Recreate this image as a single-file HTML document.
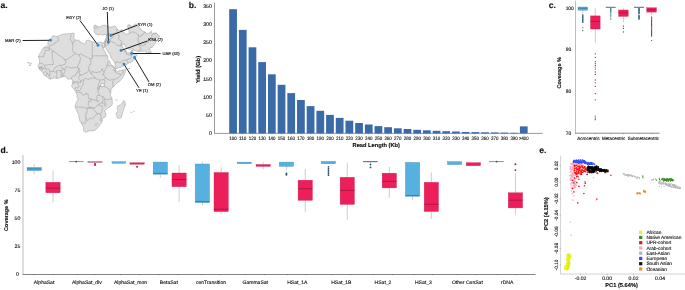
<!DOCTYPE html>
<html><head><meta charset="utf-8"><title>Figure</title>
<style>
html,body{margin:0;padding:0;background:#fff;width:685px;height:290px;overflow:hidden;}
svg{display:block;will-change:transform;}
text{font-family:"Liberation Sans",sans-serif;text-rendering:geometricPrecision;stroke:currentColor;stroke-width:0.12px;}
</style></head><body>
<svg width="685" height="290" viewBox="0 0 685 290">
<rect width="685" height="290" fill="#fff"/>
<g id="map">
<polygon points="52.71,35.63 53.65,35.64 54.42,36.30 55.64,36.19 56.97,36.54 57.52,36.56 58.75,35.70 60.14,35.42 60.94,34.77 62.18,34.29 64.35,34.00 66.46,33.87 67.11,34.11 68.32,33.48 69.68,33.47 70.20,33.84 71.08,33.74 72.47,33.09 73.37,33.29 73.33,34.10 74.42,33.51 74.51,33.82 73.87,34.60 73.86,35.33 74.30,35.72 74.13,37.08 73.29,37.86 73.53,38.70 74.20,38.73 74.52,39.46 75.01,39.70 76.51,40.23 77.05,40.09 78.12,40.35 79.81,41.03 80.41,42.37 81.56,42.66 83.37,43.28 84.73,44.02 85.35,43.63 85.97,42.95 85.67,41.80 86.07,41.07 86.99,40.36 87.88,40.15 89.61,40.46 90.04,41.14 90.52,41.14 90.93,41.40 92.20,41.58 92.51,42.08 94.21,42.05 95.45,42.45 96.72,42.89 97.31,43.12 98.29,42.65 98.82,42.22 99.95,42.10 100.86,42.29 101.21,43.03 101.51,42.54 102.53,42.89 103.53,42.98 104.16,42.60 104.87,44.77 105.00,45.15 104.64,45.74 104.37,46.84 104.02,47.60 103.72,47.85 103.29,47.38 102.72,46.73 101.80,44.63 101.67,44.77 102.20,46.32 102.99,47.78 103.95,50.01 104.43,50.79 104.84,51.59 105.99,53.14 105.73,53.39 105.77,54.29 107.26,55.54 107.49,55.82 107.90,57.17 107.62,57.42 107.81,58.82 108.28,60.44 108.76,60.78 109.46,61.27 110.21,62.83 110.56,64.05 111.26,64.70 113.01,65.95 113.72,66.70 114.41,67.46 114.81,67.91 115.44,68.31 115.75,68.72 115.71,69.26 114.98,69.57 115.53,69.93 115.94,70.17 116.19,70.71 116.77,71.25 117.41,71.26 118.61,70.93 120.01,70.77 121.13,70.37 121.77,70.28 122.22,70.04 122.95,70.00 123.36,69.97 123.95,69.78 124.63,69.65 125.24,69.20 125.72,69.19 125.75,69.56 125.63,70.32 125.64,71.00 125.37,71.47 125.01,72.87 124.39,74.32 123.60,75.97 122.50,77.86 121.41,79.29 119.90,81.04 118.62,82.08 116.71,83.35 115.51,84.33 114.11,85.88 113.82,86.55 113.53,86.85 112.63,87.37 112.32,87.90 111.84,87.99 111.66,88.90 111.24,89.42 110.99,90.27 110.48,90.69 109.89,92.28 109.96,93.01 110.78,93.48 110.82,93.81 110.47,94.59 110.54,94.98 110.46,95.60 110.91,96.41 111.44,97.69 111.91,97.98 112.11,98.56 112.06,99.86 112.22,101.01 112.27,103.07 112.49,103.72 112.11,104.66 111.61,105.59 110.80,106.41 109.63,106.92 108.19,107.57 106.74,109.02 106.25,109.27 105.35,110.23 104.83,110.54 104.72,111.51 105.33,112.55 105.58,113.36 105.59,113.77 105.82,113.70 105.78,115.06 105.58,115.71 105.88,115.95 105.69,116.53 105.15,117.03 104.10,117.51 102.56,118.27 102.00,118.80 102.11,119.40 102.43,119.49 102.32,120.25 102.00,121.29 101.85,122.50 101.52,123.15 100.65,123.89 100.40,124.10 99.85,124.85 99.50,125.61 98.77,126.68 97.32,128.23 96.42,129.14 95.45,129.84 94.12,130.43 93.46,130.51 93.30,130.94 92.52,130.71 91.89,131.01 90.50,130.71 89.72,130.90 89.19,130.82 87.87,131.43 86.78,131.67 85.99,132.26 85.41,132.30 84.87,131.74 84.43,131.71 83.88,131.02 83.82,131.24 83.65,130.82 83.66,129.92 83.24,128.90 83.66,128.62 83.62,127.46 82.79,126.06 82.14,124.81 81.22,122.90 80.27,121.80 79.77,120.75 79.49,119.35 79.17,118.32 78.74,116.15 78.71,114.49 78.55,113.73 78.05,113.16 77.39,112.03 76.72,110.39 76.44,109.54 75.40,108.22 75.32,107.19 75.20,106.35 75.38,105.18 75.82,103.96 75.88,103.39 76.30,102.21 76.61,101.67 77.34,100.81 77.75,100.22 77.89,99.26 77.82,98.52 77.44,98.05 77.09,97.26 76.78,96.48 76.85,96.21 77.24,95.70 76.85,94.45 76.59,93.59 75.95,92.77 76.07,92.52 75.89,92.12 75.55,91.16 74.50,89.80 73.18,88.50 72.34,87.45 71.56,86.12 71.60,85.70 71.88,85.29 72.19,84.36 72.45,83.41 72.21,83.21 72.65,81.78 72.84,80.76 72.34,79.92 71.75,79.70 71.49,79.12 71.17,78.94 71.18,78.58 69.85,79.05 69.37,78.98 68.87,79.27 67.85,79.24 67.16,78.44 66.74,77.51 65.84,76.66 64.87,76.67 63.75,76.67 62.69,76.82 61.66,77.10 59.65,77.85 58.94,78.29 57.79,78.66 56.64,78.30 56.06,78.31 55.17,78.06 54.35,78.08 52.83,78.30 51.94,78.67 50.68,79.14 50.43,79.11 50.09,79.12 48.77,78.51 47.61,77.53 46.52,76.82 45.66,75.99 45.31,75.90 44.39,75.38 43.73,74.69 43.50,74.21 43.34,73.26 42.78,72.49 42.29,71.98 41.96,71.81 41.64,71.56 41.49,70.98 41.31,70.69 40.93,70.48 40.25,69.93 39.71,69.85 39.42,69.48 39.42,69.28 39.03,69.00 38.95,68.72 38.74,67.72 38.91,67.13 38.38,66.11 37.74,65.63 38.30,65.38 38.92,64.45 39.23,63.77 39.67,63.34 39.48,62.39 39.63,61.12 39.49,59.79 39.34,59.12 39.46,58.44 39.13,57.79 38.46,57.20 38.51,56.62 38.57,55.98 39.07,55.60 39.48,54.88 39.40,54.41 39.84,53.43 40.55,52.54 40.99,52.31 41.32,51.49 41.35,50.73 41.82,49.85 42.67,49.33 43.48,47.86 43.50,47.84 44.15,47.29 45.34,47.13 46.35,46.13 46.99,45.74 48.06,44.51 47.74,42.66 48.22,41.37 48.40,40.57 49.22,39.54 50.50,38.84 51.45,38.20 52.31,36.59" fill="#dedede" stroke="#8a8a8a" stroke-width="0.42" stroke-linejoin="round"/>
<polygon points="104.16,42.60 104.53,42.11 104.44,42.02 104.78,41.32 105.04,40.17 105.23,39.79 105.26,39.77 105.72,38.52 106.35,37.43 106.38,37.37 106.26,36.18 106.57,35.53 106.10,34.81 106.59,34.21 105.81,34.35 104.73,33.98 103.85,34.90 101.91,35.08 100.88,34.23 99.50,34.17 99.20,34.83 98.32,35.02 97.08,34.17 95.68,34.20 94.92,32.60 93.99,31.70 94.61,30.43 93.80,29.64 95.22,28.04 97.19,27.98 97.73,26.69 100.17,26.92 101.71,25.81 103.20,25.32 105.31,25.29 107.55,26.49 109.39,27.15 110.88,26.89 111.98,27.04 113.49,26.15 114.85,26.07 116.09,26.91 116.30,27.50 116.18,28.32 117.13,28.74 117.64,29.23 117.84,29.85 118.49,30.61 119.36,30.83 119.83,30.78 121.34,29.57 121.82,29.44 122.20,29.93 121.75,30.75 122.55,31.60 122.87,31.52 123.28,32.72 124.49,33.05 125.38,33.86 127.20,34.14 129.20,33.71 129.32,33.34 129.08,32.20 129.27,30.49 128.27,29.93 128.60,28.79 127.75,28.69 128.03,27.27 129.24,27.69 130.36,27.15 129.43,26.13 129.06,25.14 128.03,25.58 127.90,26.83 127.50,25.73 128.07,25.16 129.52,24.80 130.39,25.28 131.28,26.62 131.94,26.54 133.38,26.52 133.17,25.65 134.27,25.06 135.35,24.05 137.07,24.97 137.21,26.34 137.70,26.69 139.08,26.61 139.51,26.92 140.14,28.66 141.60,29.81 142.44,30.58 143.78,31.39 145.48,32.08 145.44,33.07 146.16,33.08 147.12,33.42 147.51,33.62 148.44,33.10 148.87,33.41 149.28,32.68 150.05,32.71 150.25,32.47 150.38,31.82 150.93,31.25 151.63,31.62 151.49,32.12 151.87,32.20 151.75,33.55 152.26,34.08 152.71,33.74 153.28,33.58 154.07,32.86 154.95,32.98 156.27,32.98 156.50,33.44 157.45,34.19 157.83,35.41 159.93,36.05 158.70,37.36 157.27,37.59 155.33,37.21 154.70,37.88 155.15,39.23 155.60,40.27 156.63,41.02 155.54,41.89 155.56,42.96 154.32,44.45 153.51,45.94 152.18,47.47 150.69,47.36 149.28,48.87 150.12,49.51 150.26,50.61 150.98,51.33 151.24,52.54 148.42,52.54 147.57,53.47 146.63,53.12 146.25,52.11 145.26,51.03 142.90,51.30 140.82,51.32 139.02,51.52 136.61,51.10 135.21,50.77 133.77,50.58 133.22,48.83 132.61,48.58 131.63,48.84 130.34,49.53 128.77,49.05 127.48,47.95 126.25,47.54 125.39,46.16 124.45,44.20 123.76,44.43 122.94,43.94 122.47,44.52 121.71,44.45 121.97,45.10 121.86,45.44 122.27,46.54 122.77,47.79 123.40,48.12 123.62,48.63 124.50,49.23 124.57,49.82 124.45,50.29 124.61,50.77 124.98,51.17 125.15,51.63 125.34,51.98 125.25,50.95 125.60,50.20 125.95,50.05 126.33,50.50 126.36,51.33 126.08,52.16 126.32,52.70 126.55,52.63 126.60,53.01 127.60,52.79 128.66,52.83 129.43,52.87 130.31,51.92 131.26,51.01 132.07,50.14 132.31,50.62 132.49,51.74 133.06,52.70 133.78,53.21 134.72,53.39 135.47,53.65 136.05,54.45 136.40,54.91 136.85,55.08 136.85,55.39 136.39,56.21 136.18,56.60 135.64,57.04 135.16,57.98 134.58,57.91 134.32,58.23 134.11,58.92 134.27,59.83 134.15,60.00 133.56,59.99 132.76,60.50 132.64,61.15 132.34,61.44 131.55,61.43 131.05,61.77 131.05,62.31 130.43,62.68 129.73,62.55 128.87,63.00 128.28,63.08 127.35,63.44 127.11,64.03 127.08,64.48 125.80,65.04 123.76,65.66 122.61,66.59 122.05,66.67 121.66,66.59 120.91,67.14 120.10,67.39 119.02,67.46 118.70,67.53 118.42,67.88 118.08,67.98 117.89,68.31 117.25,68.28 116.84,68.46 115.96,68.39 115.63,67.62 115.66,66.91 115.45,66.52 115.20,65.54 114.83,64.99 115.09,64.93 114.96,64.32 115.11,64.07 115.06,63.48 114.89,62.91 114.51,62.51 114.41,61.98 113.75,61.50 113.06,60.37 112.70,59.26 111.82,58.33 111.25,58.10 110.40,56.80 110.25,55.84 110.30,55.02 109.57,53.48 108.97,52.93 108.28,52.64 107.86,51.83 107.93,51.51 107.57,50.78 107.20,50.46 106.70,49.40 105.92,48.24 105.27,47.25 104.63,47.26 104.83,46.46 104.89,45.95 105.04,45.36 105.00,45.15 104.87,44.77" fill="#dedede" stroke="#8a8a8a" stroke-width="0.42" stroke-linejoin="round"/>
<polygon points="123.72,100.79 124.06,101.35 124.37,102.22 124.58,103.80 124.91,104.42 124.78,105.06 124.56,105.45 124.12,104.67 123.88,105.07 124.13,106.05 124.01,106.62 123.66,106.93 123.58,108.07 123.07,109.64 122.44,111.51 121.65,114.12 121.16,116.06 120.58,117.68 119.54,118.02 118.42,118.62 117.69,118.26 116.67,117.75 116.32,117.01 116.23,115.76 115.78,114.65 115.67,113.66 115.89,112.67 116.48,112.43 116.49,111.97 117.10,110.94 117.21,110.07 116.92,109.43 116.68,108.58 116.57,107.34 117.02,106.59 117.19,105.74 117.83,105.69 118.54,105.42 119.02,105.18 119.58,105.16 120.31,104.40 121.36,103.59 121.75,102.92 121.57,102.36 122.12,102.52 122.82,101.60 122.85,100.81 123.27,100.23 123.72,100.79" transform="translate(0.6,0)" fill="#dedede" stroke="#8a8a8a" stroke-width="0.42" stroke-linejoin="round"/>
<polygon points="95.11,27.59 94.04,28.49 93.64,27.71 93.65,27.36 93.96,27.17 94.35,26.11 93.73,25.65 95.03,25.11 96.14,25.34 96.29,26.00 97.41,26.55 97.17,26.97 95.65,27.07 95.11,27.59" fill="#dedede" stroke="#8a8a8a" stroke-width="0.42" stroke-linejoin="round"/>
<polygon points="132.48,50.36 132.31,50.62 132.07,50.14 132.44,49.65 132.60,49.77" fill="#dedede" stroke="#8a8a8a" stroke-width="0.42" stroke-linejoin="round"/>
<polygon points="128.52,68.41 129.10,68.31 130.06,68.51 129.55,68.77 128.91,68.83 128.52,68.64" fill="#dedede" stroke="#8a8a8a" stroke-width="0.42" stroke-linejoin="round"/>
<circle cx="28.17" cy="62.55" r="0.45" fill="#dedede" stroke="#8a8a8a" stroke-width="0.3"/>
<circle cx="28.36" cy="62.81" r="0.3" fill="#dedede" stroke="#8a8a8a" stroke-width="0.3"/>
<circle cx="29.20" cy="63.15" r="0.3" fill="#dedede" stroke="#8a8a8a" stroke-width="0.3"/>
<circle cx="30.99" cy="63.01" r="0.3" fill="#dedede" stroke="#8a8a8a" stroke-width="0.3"/>
<circle cx="31.12" cy="63.81" r="0.35" fill="#dedede" stroke="#8a8a8a" stroke-width="0.3"/>
<circle cx="30.60" cy="65.01" r="0.3" fill="#dedede" stroke="#8a8a8a" stroke-width="0.3"/>
<circle cx="30.09" cy="65.14" r="0.4" fill="#dedede" stroke="#8a8a8a" stroke-width="0.3"/>
<circle cx="29.07" cy="65.41" r="0.3" fill="#dedede" stroke="#8a8a8a" stroke-width="0.3"/>
<circle cx="115.72" cy="99.78" r="0.35" fill="#dedede" stroke="#8a8a8a" stroke-width="0.3"/>
<circle cx="117.13" cy="100.44" r="0.3" fill="#dedede" stroke="#8a8a8a" stroke-width="0.3"/>
<circle cx="133.96" cy="111.25" r="0.45" fill="#dedede" stroke="#8a8a8a" stroke-width="0.3"/>
<circle cx="131.34" cy="112.34" r="0.5" fill="#dedede" stroke="#8a8a8a" stroke-width="0.3"/>
<circle cx="110.60" cy="92.52" r="0.35" fill="#dedede" stroke="#8a8a8a" stroke-width="0.3"/>
<circle cx="111.12" cy="91.24" r="0.3" fill="#dedede" stroke="#8a8a8a" stroke-width="0.3"/>
<polygon points="97.39,123.45 97.84,123.89 97.44,124.61 97.23,125.09 96.51,125.32 96.28,125.79 95.82,125.94 94.86,124.80 95.54,123.87 96.24,123.30 96.83,123.00" fill="#dedede" stroke="#8a8a8a" stroke-width="0.3"/>
<polygon points="101.35,120.23 101.09,120.87 100.34,121.03 99.58,120.24 99.57,119.76 99.92,119.21 100.03,118.80 100.40,118.70 101.06,118.96 101.25,119.60" fill="#dedede" stroke="#8a8a8a" stroke-width="0.3"/>
<polyline points="57.52,36.56 58.00,37.56 58.08,38.50 58.52,40.12 58.86,40.44 58.63,41.03 56.95,41.28 56.37,41.84 55.63,41.97 55.58,43.08 54.08,43.67 53.59,44.41 52.54,44.81 51.26,45.03 49.20,46.12 49.21,47.84 49.18,48.21" fill="none" stroke="#8a8a8a" stroke-width="0.42" stroke-linejoin="round"/>
<polyline points="49.21,47.84 43.48,47.86" fill="none" stroke="#8a8a8a" stroke-width="0.42" stroke-linejoin="round"/>
<polyline points="49.18,48.21 49.18,50.38 44.98,50.31 45.02,53.91 43.82,54.04 43.51,54.75 43.75,56.75 38.74,56.74 38.46,57.20" fill="none" stroke="#8a8a8a" stroke-width="0.42" stroke-linejoin="round"/>
<polyline points="49.18,48.21 54.00,51.67" fill="none" stroke="#8a8a8a" stroke-width="0.42" stroke-linejoin="round"/>
<polyline points="54.00,51.67 52.04,51.69 52.66,57.69 53.27,63.51 53.50,63.68 53.21,64.61 48.08,64.63 47.88,64.93 47.39,64.84 46.67,65.10 45.77,64.73 45.37,64.76 45.15,65.54 44.72,65.78" fill="none" stroke="#8a8a8a" stroke-width="0.42" stroke-linejoin="round"/>
<polyline points="44.72,65.78 43.88,64.87 43.10,63.90 42.25,63.54 41.64,63.15 40.93,63.16 40.30,63.46 39.67,63.34 39.23,63.77" fill="none" stroke="#8a8a8a" stroke-width="0.42" stroke-linejoin="round"/>
<polyline points="54.00,51.67 58.32,54.72 62.63,57.73 62.94,58.37 63.73,58.76 64.33,58.98 64.34,59.84 65.76,59.71" fill="none" stroke="#8a8a8a" stroke-width="0.42" stroke-linejoin="round"/>
<polyline points="65.76,59.71 67.57,59.11 71.27,56.42 75.66,53.78" fill="none" stroke="#8a8a8a" stroke-width="0.42" stroke-linejoin="round"/>
<polyline points="75.66,53.78 75.10,52.90 74.09,52.25 73.49,52.51 73.03,51.72 72.99,51.12 72.23,50.08 72.74,49.48 72.63,48.58 72.79,47.79 72.70,47.13 72.92,45.94 72.85,45.26 72.44,43.96" fill="none" stroke="#8a8a8a" stroke-width="0.42" stroke-linejoin="round"/>
<polyline points="72.44,43.96 71.89,41.27 71.10,40.66 71.09,40.29 70.04,39.38 69.93,38.22 70.72,37.36 71.02,36.07 70.82,34.56 71.08,33.74" fill="none" stroke="#8a8a8a" stroke-width="0.42" stroke-linejoin="round"/>
<polyline points="72.44,43.96 73.06,43.61 73.17,42.99 73.04,42.37 73.92,41.79 74.31,41.30 74.93,40.87 75.01,39.70" fill="none" stroke="#8a8a8a" stroke-width="0.42" stroke-linejoin="round"/>
<polyline points="92.51,42.08 92.05,42.79 92.25,43.43 91.92,44.35 92.30,45.53 92.30,55.82" fill="none" stroke="#8a8a8a" stroke-width="0.42" stroke-linejoin="round"/>
<polyline points="92.30,55.82 92.30,58.56 90.83,58.56 90.81,59.13 85.71,56.52 80.60,53.86 79.31,54.63 78.40,55.14 77.68,54.38 75.66,53.78" fill="none" stroke="#8a8a8a" stroke-width="0.42" stroke-linejoin="round"/>
<polyline points="92.30,55.82 107.49,55.82" fill="none" stroke="#8a8a8a" stroke-width="0.42" stroke-linejoin="round"/>
<polyline points="65.76,59.71 65.77,62.81 65.07,63.70 64.96,64.52 63.82,64.73 62.07,64.85 61.60,65.32 60.78,65.37" fill="none" stroke="#8a8a8a" stroke-width="0.42" stroke-linejoin="round"/>
<polyline points="60.78,65.37 59.96,65.38 59.64,65.12 58.94,65.31 57.74,65.86 57.49,66.27 56.50,66.86 56.33,67.20 55.79,67.47 55.17,67.29 54.82,67.61 54.63,68.52 53.62,69.60 53.65,70.04 53.30,70.60 53.38,71.35" fill="none" stroke="#8a8a8a" stroke-width="0.42" stroke-linejoin="round"/>
<polyline points="44.72,65.78 44.78,66.61 45.03,67.36 45.51,67.73 45.62,68.24 45.56,68.65 45.64,69.13 46.39,68.99 46.74,69.33 47.29,69.43 47.64,69.15 48.05,68.97 48.36,68.79 48.62,68.82 48.90,69.11 49.05,69.47 49.58,70.02 49.32,70.35 49.27,70.78 49.54,70.65 49.70,70.80 49.63,71.19 50.02,71.57 50.19,71.45 50.54,71.64 51.53,71.65 51.77,71.27 51.99,71.30 52.36,71.15 52.56,71.71 52.85,71.54 53.38,71.35" fill="none" stroke="#8a8a8a" stroke-width="0.42" stroke-linejoin="round"/>
<polyline points="38.91,67.13 40.30,67.09 40.59,66.78 41.00,66.76 41.50,67.09 41.90,67.09 42.32,66.87 42.58,67.25 42.02,67.55 41.47,67.52 40.92,67.25 40.44,67.55 40.22,67.56 39.91,67.74 38.74,67.72" fill="none" stroke="#8a8a8a" stroke-width="0.42" stroke-linejoin="round"/>
<polyline points="38.95,68.72 39.63,68.51 40.05,68.55 40.40,68.40 42.76,68.46 43.38,68.47 44.30,68.79 44.58,68.76 44.68,68.62 45.38,68.72 45.56,68.65" fill="none" stroke="#8a8a8a" stroke-width="0.42" stroke-linejoin="round"/>
<polyline points="42.76,68.46 42.74,68.90 42.60,69.04 42.71,69.47 42.51,69.65 42.22,69.65 41.89,69.87 41.50,69.84 40.93,70.48" fill="none" stroke="#8a8a8a" stroke-width="0.42" stroke-linejoin="round"/>
<polyline points="43.34,73.26 44.03,72.69 44.18,72.33 44.39,72.05 44.75,72.02 45.05,71.77 46.07,71.77 46.43,72.24 46.70,72.78 46.66,73.16 46.87,73.50" fill="none" stroke="#8a8a8a" stroke-width="0.42" stroke-linejoin="round"/>
<polyline points="45.66,75.99 45.96,75.58 46.03,75.21 46.61,74.50 47.21,73.90 46.85,73.98 46.87,73.50 47.48,73.87 47.81,73.73 48.35,74.52 48.26,75.04 48.51,75.31 48.87,75.32 49.14,74.80 49.50,74.83" fill="none" stroke="#8a8a8a" stroke-width="0.42" stroke-linejoin="round"/>
<polyline points="49.50,74.83 49.70,74.83 49.78,74.27 49.68,74.02 49.80,73.84 50.27,73.68 49.96,72.64 49.66,72.11 49.77,71.67 50.02,71.57" fill="none" stroke="#8a8a8a" stroke-width="0.42" stroke-linejoin="round"/>
<polyline points="49.50,74.83 49.44,75.21 49.57,75.83 49.29,76.40 49.66,76.76 50.07,76.84 50.61,77.38 50.65,77.89 50.53,78.05 50.43,79.11" fill="none" stroke="#8a8a8a" stroke-width="0.42" stroke-linejoin="round"/>
<polyline points="53.38,71.35 53.96,71.64 54.18,72.07 54.76,72.34 55.21,72.01 55.80,71.96 56.68,72.30" fill="none" stroke="#8a8a8a" stroke-width="0.42" stroke-linejoin="round"/>
<polyline points="56.68,72.30 57.02,74.14 56.48,75.23 56.15,76.68 56.70,77.79 56.64,78.30" fill="none" stroke="#8a8a8a" stroke-width="0.42" stroke-linejoin="round"/>
<polyline points="56.68,72.30 56.51,71.32 56.54,70.58 58.76,70.52 59.33,70.61 59.74,70.40 60.33,70.51" fill="none" stroke="#8a8a8a" stroke-width="0.42" stroke-linejoin="round"/>
<polyline points="60.33,70.51 60.24,70.91 60.77,71.59 60.77,72.53 60.89,73.55 61.21,74.02 60.93,75.19 61.03,75.83 61.37,76.65 61.66,77.10" fill="none" stroke="#8a8a8a" stroke-width="0.42" stroke-linejoin="round"/>
<polyline points="60.33,70.51 61.45,70.54 61.89,70.39 62.15,69.82 62.78,69.70 63.06,69.30" fill="none" stroke="#8a8a8a" stroke-width="0.42" stroke-linejoin="round"/>
<polyline points="60.78,65.37 60.68,66.01 60.85,66.61 61.57,67.47 61.61,68.11 63.09,68.41 63.06,69.30" fill="none" stroke="#8a8a8a" stroke-width="0.42" stroke-linejoin="round"/>
<polyline points="61.45,70.54 61.29,71.22 61.68,71.61 62.12,72.06 62.17,72.70 62.43,72.97 62.37,75.93 62.69,76.82" fill="none" stroke="#8a8a8a" stroke-width="0.42" stroke-linejoin="round"/>
<polyline points="63.06,69.30 63.49,68.92 63.95,68.92 64.92,69.67" fill="none" stroke="#8a8a8a" stroke-width="0.42" stroke-linejoin="round"/>
<polyline points="64.92,69.67 64.87,70.10 65.16,70.88 64.91,71.40 65.04,71.75 64.42,72.56 64.03,72.95 63.79,73.77 63.82,74.59 63.75,76.67" fill="none" stroke="#8a8a8a" stroke-width="0.42" stroke-linejoin="round"/>
<polyline points="64.92,69.67 65.01,68.50 65.38,67.97 65.56,67.22 65.89,66.93 67.27,66.78 68.55,67.27 69.03,67.76 69.68,67.79 70.29,67.46 71.84,68.14 72.49,68.11 73.25,67.55 74.00,67.59 74.37,67.41 75.06,67.48 76.05,67.87 77.05,67.13 77.71,67.19" fill="none" stroke="#8a8a8a" stroke-width="0.42" stroke-linejoin="round"/>
<polyline points="77.71,67.19 77.63,66.11 78.18,64.37 79.82,63.11 79.88,61.37 80.38,58.62 80.65,58.03 80.13,57.57 80.10,57.13 79.63,56.77 79.31,54.63" fill="none" stroke="#8a8a8a" stroke-width="0.42" stroke-linejoin="round"/>
<polyline points="77.71,67.19 78.22,67.78 78.45,68.60" fill="none" stroke="#8a8a8a" stroke-width="0.42" stroke-linejoin="round"/>
<polyline points="78.45,68.60 78.96,69.11 78.82,69.36 78.76,69.79 77.67,70.79 77.34,71.63 77.16,72.30 76.89,72.59 76.62,73.49 75.94,74.03 75.74,74.68 75.46,75.20 75.34,75.74 74.46,76.18 73.74,75.64 73.25,75.67 72.49,76.43 72.11,76.44 71.51,77.67 71.18,78.59" fill="none" stroke="#8a8a8a" stroke-width="0.42" stroke-linejoin="round"/>
<polyline points="78.45,68.60 78.86,68.10 79.36,68.94 79.45,69.80 80.10,71.86 79.40,71.85 79.03,71.94 78.44,71.81 78.16,72.42 78.91,73.17 79.47,73.39 79.65,73.93 80.06,74.83 79.86,75.18" fill="none" stroke="#8a8a8a" stroke-width="0.42" stroke-linejoin="round"/>
<polyline points="79.86,75.18 80.92,75.07 81.15,74.75 81.69,75.06 83.29,74.57 83.84,74.06 84.50,73.61 84.38,73.16 84.74,73.04 85.98,73.12 87.18,72.51 88.10,71.09 88.75,70.57 89.56,70.35" fill="none" stroke="#8a8a8a" stroke-width="0.42" stroke-linejoin="round"/>
<polyline points="89.56,70.35 89.10,69.64 89.10,68.89 88.83,68.37 88.38,68.45 88.51,67.97 88.83,67.43 88.69,66.88 89.11,66.48 88.84,66.16 89.19,65.36 89.77,64.37 90.88,64.47 90.81,59.13" fill="none" stroke="#8a8a8a" stroke-width="0.42" stroke-linejoin="round"/>
<polyline points="89.56,70.35 89.71,70.91 90.44,71.72 90.46,72.25 90.24,72.78 90.33,73.20 90.78,73.56 91.75,74.13 92.44,74.65 92.45,75.07 93.32,75.74 93.85,76.30 94.18,77.07 95.13,77.58 95.33,78.00" fill="none" stroke="#8a8a8a" stroke-width="0.42" stroke-linejoin="round"/>
<polyline points="90.78,73.56 91.26,73.48 91.71,73.24 92.03,72.08 92.39,71.48 93.31,71.30 93.53,71.65 94.19,72.42 94.54,72.52 95.00,72.30 95.92,72.35 96.10,72.61 97.38,72.61 97.42,72.35 98.09,72.11 98.21,71.73 98.69,71.46 99.78,72.21 100.43,72.08 101.07,71.14 101.77,70.43 101.66,69.64 101.35,69.27 102.13,69.20 102.21,68.90 102.81,68.99 102.66,69.96 102.81,70.90 103.46,71.41 103.62,71.86 103.77,72.38 103.91,72.55" fill="none" stroke="#8a8a8a" stroke-width="0.42" stroke-linejoin="round"/>
<polyline points="103.91,72.55 104.15,71.01 104.75,70.65 104.88,70.11 105.43,69.12 106.20,68.47 106.73,67.18 106.93,66.04" fill="none" stroke="#8a8a8a" stroke-width="0.42" stroke-linejoin="round"/>
<polyline points="103.91,72.55 103.91,73.55 103.60,73.93 102.91,73.97 102.48,74.71 103.27,74.80 103.92,75.42 104.14,75.94 104.73,76.25 105.48,77.64" fill="none" stroke="#8a8a8a" stroke-width="0.42" stroke-linejoin="round"/>
<polyline points="105.48,77.64 106.15,77.85 106.15,78.57 106.58,79.00 107.48,79.00 109.09,80.09 109.50,80.10 109.80,80.06 110.08,80.22 110.94,80.32 111.31,79.78 112.49,79.24 113.00,79.68 113.88,79.68" fill="none" stroke="#8a8a8a" stroke-width="0.42" stroke-linejoin="round"/>
<polyline points="105.48,77.64 104.61,78.48 103.82,79.25" fill="none" stroke="#8a8a8a" stroke-width="0.42" stroke-linejoin="round"/>
<polyline points="103.82,79.25 103.04,79.85 102.14,79.85 101.11,80.14 100.30,79.86 99.76,80.20" fill="none" stroke="#8a8a8a" stroke-width="0.42" stroke-linejoin="round"/>
<polyline points="103.82,79.25 104.43,80.14 104.59,80.96 105.15,82.25 104.68,83.19 103.68,84.56 103.68,85.92" fill="none" stroke="#8a8a8a" stroke-width="0.42" stroke-linejoin="round"/>
<polyline points="99.76,80.20 99.69,81.70 100.20,81.88 99.79,82.33 99.30,82.68 98.82,83.34 98.55,83.93 98.47,84.97 98.18,85.46 98.16,86.42" fill="none" stroke="#8a8a8a" stroke-width="0.42" stroke-linejoin="round"/>
<polyline points="99.24,86.15 103.68,85.92" fill="none" stroke="#8a8a8a" stroke-width="0.42" stroke-linejoin="round"/>
<polyline points="98.16,86.42 98.47,86.54 99.24,86.15" fill="none" stroke="#8a8a8a" stroke-width="0.42" stroke-linejoin="round"/>
<polyline points="98.16,86.42 97.79,86.77 97.74,87.54 97.57,87.63 97.45,88.34" fill="none" stroke="#8a8a8a" stroke-width="0.42" stroke-linejoin="round"/>
<polyline points="97.45,88.34 98.24,88.44 98.62,87.71 99.30,87.79" fill="none" stroke="#8a8a8a" stroke-width="0.42" stroke-linejoin="round"/>
<polyline points="99.24,86.15 99.75,86.88 99.67,87.63 99.30,87.79" fill="none" stroke="#8a8a8a" stroke-width="0.42" stroke-linejoin="round"/>
<polyline points="99.30,87.79 99.38,88.30 99.65,88.58 99.66,89.00 99.35,89.27 98.85,89.94 98.38,90.40 97.86,90.47" fill="none" stroke="#8a8a8a" stroke-width="0.42" stroke-linejoin="round"/>
<polyline points="97.45,88.34 97.78,88.91 97.86,90.47" fill="none" stroke="#8a8a8a" stroke-width="0.42" stroke-linejoin="round"/>
<polyline points="97.86,90.47 98.09,91.65 97.96,92.32 98.21,93.06 98.96,93.79 99.65,95.41" fill="none" stroke="#8a8a8a" stroke-width="0.42" stroke-linejoin="round"/>
<polyline points="99.65,95.41 100.18,95.74 100.70,95.96 101.50,96.18 102.23,96.57" fill="none" stroke="#8a8a8a" stroke-width="0.42" stroke-linejoin="round"/>
<polyline points="102.23,96.57 102.83,97.15 103.17,98.26 102.94,98.61 102.68,99.66 102.94,100.75 102.53,101.20 102.14,102.42 102.81,102.76" fill="none" stroke="#8a8a8a" stroke-width="0.42" stroke-linejoin="round"/>
<polyline points="102.23,96.57 103.49,96.81 103.74,97.16 104.18,97.77 104.54,99.55" fill="none" stroke="#8a8a8a" stroke-width="0.42" stroke-linejoin="round"/>
<polyline points="102.81,102.76 103.55,103.40 103.90,103.28 104.41,103.61 104.49,104.14 104.22,104.76 104.31,105.69 105.14,106.52 105.54,105.60 106.09,105.32 105.98,103.61 105.45,102.66 104.98,102.23 104.54,102.25 104.18,100.54 104.54,99.55" fill="none" stroke="#8a8a8a" stroke-width="0.42" stroke-linejoin="round"/>
<polyline points="104.54,99.55 105.50,99.44 107.03,99.81 107.38,99.64 108.26,99.61 108.72,99.22 109.49,99.25 110.89,98.74 111.91,97.98" fill="none" stroke="#8a8a8a" stroke-width="0.42" stroke-linejoin="round"/>
<polyline points="103.68,85.92 108.56,88.67 108.65,89.41 110.48,90.70" fill="none" stroke="#8a8a8a" stroke-width="0.42" stroke-linejoin="round"/>
<polyline points="102.81,102.76 98.93,103.86 99.05,104.80" fill="none" stroke="#8a8a8a" stroke-width="0.42" stroke-linejoin="round"/>
<polyline points="99.05,104.80 98.09,104.97 97.36,105.51 97.20,105.97 96.74,106.08 95.63,107.18 94.91,108.05 94.49,108.08 94.07,107.93 92.63,107.78" fill="none" stroke="#8a8a8a" stroke-width="0.42" stroke-linejoin="round"/>
<polyline points="92.63,107.78 92.40,107.67 91.89,107.26 91.06,107.19 90.02,107.48" fill="none" stroke="#8a8a8a" stroke-width="0.42" stroke-linejoin="round"/>
<polyline points="90.02,107.48 89.18,106.65 88.32,105.56 88.37,101.35 91.05,101.37 90.93,100.92 91.12,100.42 90.89,99.81 91.05,99.18 90.90,98.78" fill="none" stroke="#8a8a8a" stroke-width="0.42" stroke-linejoin="round"/>
<polyline points="90.90,98.78 91.35,98.80 91.42,99.21 92.02,99.18 92.84,99.30 93.26,99.89 94.28,100.07 95.06,99.66 95.36,100.34 96.34,100.53 96.81,101.09 97.33,101.81 98.32,101.83 98.21,100.41 97.86,100.65 96.96,100.13 96.61,99.90 96.78,98.59 97.00,97.06 96.72,96.48 97.07,95.66 97.42,95.50 99.15,95.28 99.65,95.41" fill="none" stroke="#8a8a8a" stroke-width="0.42" stroke-linejoin="round"/>
<polyline points="90.90,98.78 90.33,98.70 89.54,98.89 88.97,98.85 88.66,98.97 88.73,97.42 88.31,96.94 88.20,96.15 88.40,95.37 88.14,94.87 88.11,94.06 86.55,94.07 86.67,93.61 86.02,93.61 85.95,93.84 85.16,93.89 84.84,94.64 84.65,94.96 83.93,94.78 83.51,94.96 82.66,95.06 82.18,94.39 81.88,93.97 81.51,93.19 81.20,92.24 77.43,92.21 76.97,92.37 76.61,92.36 76.07,92.52" fill="none" stroke="#8a8a8a" stroke-width="0.42" stroke-linejoin="round"/>
<polyline points="90.02,107.48 87.67,108.03 84.57,107.85 83.67,107.20 78.49,107.26 78.30,107.35 77.53,106.75 76.70,106.71 75.94,106.93 75.31,107.19" fill="none" stroke="#8a8a8a" stroke-width="0.42" stroke-linejoin="round"/>
<polyline points="92.63,107.78 91.69,107.98 91.30,107.98 90.48,108.51 90.00,107.95 88.02,108.43 87.06,108.47 87.03,113.32 85.77,113.37 85.77,117.44" fill="none" stroke="#8a8a8a" stroke-width="0.42" stroke-linejoin="round"/>
<polyline points="85.77,117.44 85.76,122.73 84.62,123.47 83.93,123.59 83.14,123.31 82.56,123.19 82.34,122.58 81.83,122.17 81.22,122.90" fill="none" stroke="#8a8a8a" stroke-width="0.42" stroke-linejoin="round"/>
<polyline points="92.63,107.78 93.13,108.86 93.39,109.09 93.78,109.87 95.24,111.37 95.78,111.52 95.79,112.00 96.17,112.88 97.15,113.08 97.97,113.70" fill="none" stroke="#8a8a8a" stroke-width="0.42" stroke-linejoin="round"/>
<polyline points="97.97,113.70 96.17,114.73 95.01,115.76 94.59,116.70 94.21,117.23 93.50,117.34 93.29,118.01 93.14,118.46 92.34,118.79 91.29,118.72 90.67,118.32 90.14,118.15 89.51,118.47 89.20,119.16 88.60,119.58 87.96,120.23 87.04,120.37 86.76,119.87 86.87,119.00 86.12,117.65 85.77,117.44" fill="none" stroke="#8a8a8a" stroke-width="0.42" stroke-linejoin="round"/>
<polyline points="97.97,113.70 100.22,113.92" fill="none" stroke="#8a8a8a" stroke-width="0.42" stroke-linejoin="round"/>
<polyline points="100.22,113.92 101.57,112.37 101.91,111.38 102.10,111.25 102.25,110.46 102.04,110.05 102.09,109.03 102.35,108.10 102.35,106.40 101.68,105.97 101.07,105.88 100.80,105.55 100.20,105.27 99.14,105.29 99.05,104.80" fill="none" stroke="#8a8a8a" stroke-width="0.42" stroke-linejoin="round"/>
<polyline points="100.22,113.92 100.84,115.88 101.17,116.88 100.94,118.45 101.06,118.96" fill="none" stroke="#8a8a8a" stroke-width="0.42" stroke-linejoin="round"/>
<polyline points="101.35,120.23 102.32,120.24" fill="none" stroke="#8a8a8a" stroke-width="0.42" stroke-linejoin="round"/>
<polyline points="83.92,80.22 83.84,80.99 83.46,81.67 83.21,82.47 83.05,83.60 83.12,84.33 82.90,84.78 82.88,85.24 82.73,85.65 81.89,86.27 81.30,86.93 80.74,88.17 80.79,89.23 80.46,89.64 79.72,90.26 78.96,91.07 78.49,90.84 78.40,90.48 77.71,90.47 77.27,90.95 76.93,90.83 76.45,90.39 76.07,90.61 75.54,91.16" fill="none" stroke="#8a8a8a" stroke-width="0.42" stroke-linejoin="round"/>
<polyline points="74.50,89.80 75.48,89.09 74.99,88.25 75.43,87.91 76.30,87.76 76.40,87.20 77.08,87.81 78.21,87.86 78.60,87.25 78.77,86.40 78.63,85.42 78.02,84.65 78.58,83.16 78.26,82.91 77.30,83.02 76.94,82.36 77.04,81.79" fill="none" stroke="#8a8a8a" stroke-width="0.42" stroke-linejoin="round"/>
<polyline points="77.04,81.79 76.88,81.73 76.12,81.90 75.34,81.72 74.74,81.81" fill="none" stroke="#8a8a8a" stroke-width="0.42" stroke-linejoin="round"/>
<polyline points="74.74,81.81 74.75,83.34 72.88,83.33 72.45,83.41" fill="none" stroke="#8a8a8a" stroke-width="0.42" stroke-linejoin="round"/>
<polyline points="74.74,81.81 72.65,81.78" fill="none" stroke="#8a8a8a" stroke-width="0.42" stroke-linejoin="round"/>
<polyline points="77.04,81.79 78.66,81.84 79.69,82.19 80.70,82.49 81.05,81.86" fill="none" stroke="#8a8a8a" stroke-width="0.42" stroke-linejoin="round"/>
<polyline points="81.05,81.86 80.79,81.79 80.66,81.42 80.60,80.85 80.02,80.42 79.55,79.77 79.44,79.31 78.83,78.64 78.94,78.25 78.81,77.71 78.91,76.71 79.22,76.48 79.86,75.18" fill="none" stroke="#8a8a8a" stroke-width="0.42" stroke-linejoin="round"/>
<polyline points="81.05,81.86 81.47,80.60 82.23,79.92 83.10,80.14 83.92,80.22" fill="none" stroke="#8a8a8a" stroke-width="0.42" stroke-linejoin="round"/>
<polyline points="83.92,80.22 84.03,79.32 84.53,78.66 85.22,78.25 86.27,78.69 87.09,79.17 88.02,79.29 88.98,79.54 89.36,78.77 89.54,78.66 90.12,78.79 91.54,78.15 92.06,78.42 92.47,78.38 92.66,78.07 93.13,77.96 94.09,78.10 94.91,78.12 95.33,78.00" fill="none" stroke="#8a8a8a" stroke-width="0.42" stroke-linejoin="round"/>
<polyline points="95.33,78.00 96.11,79.05 96.69,79.20 97.04,78.99 97.62,79.08 98.34,78.81 98.64,79.36 99.76,80.20" fill="none" stroke="#8a8a8a" stroke-width="0.42" stroke-linejoin="round"/>
<polyline points="106.93,66.04 106.79,65.51 107.34,63.56 107.47,62.67 107.88,62.26 108.81,62.04 109.46,61.27" fill="none" stroke="#8a8a8a" stroke-width="0.42" stroke-linejoin="round"/>
<polyline points="106.93,66.04 107.80,65.33 108.82,65.33 109.59,65.93 110.35,65.62 110.66,65.90 111.54,65.91 112.65,66.44 112.97,66.90 113.54,67.32 114.07,68.09 114.51,68.52" fill="none" stroke="#8a8a8a" stroke-width="0.42" stroke-linejoin="round"/>
<polyline points="114.51,68.52 115.06,68.62 115.44,68.31" fill="none" stroke="#8a8a8a" stroke-width="0.42" stroke-linejoin="round"/>
<polyline points="114.51,68.52 114.06,69.10 113.62,69.71 113.73,70.06 113.75,70.47 114.46,70.49 114.76,70.39 115.06,70.62" fill="none" stroke="#8a8a8a" stroke-width="0.42" stroke-linejoin="round"/>
<polyline points="115.06,70.62 115.53,69.93" fill="none" stroke="#8a8a8a" stroke-width="0.42" stroke-linejoin="round"/>
<polyline points="115.06,70.62 115.72,72.43 116.21,72.90 120.40,74.43 121.47,74.43" fill="none" stroke="#8a8a8a" stroke-width="0.42" stroke-linejoin="round"/>
<polyline points="121.47,74.43 117.85,78.29 116.18,78.34 115.05,79.25 114.23,79.28 113.88,79.68" fill="none" stroke="#8a8a8a" stroke-width="0.42" stroke-linejoin="round"/>
<polyline points="113.88,79.68 112.75,81.14 112.77,85.80 113.53,86.85" fill="none" stroke="#8a8a8a" stroke-width="0.42" stroke-linejoin="round"/>
<polyline points="122.94,70.00 122.94,72.55 122.37,73.34 121.47,74.43" fill="none" stroke="#8a8a8a" stroke-width="0.42" stroke-linejoin="round"/>
<polyline points="105.26,39.77 105.69,39.77 105.81,39.51 106.15,39.49" fill="none" stroke="#8a8a8a" stroke-width="0.42" stroke-linejoin="round"/>
<polyline points="106.15,39.49 106.17,40.11 106.00,40.34 106.02,40.35" fill="none" stroke="#8a8a8a" stroke-width="0.42" stroke-linejoin="round"/>
<polyline points="106.02,40.35 105.80,40.83 105.80,41.75 105.61,42.20 105.64,42.78 105.00,45.15" fill="none" stroke="#8a8a8a" stroke-width="0.42" stroke-linejoin="round"/>
<polyline points="105.80,40.83 105.34,40.62 105.07,41.63 105.39,41.80 105.06,42.00 105.01,42.40 105.61,42.20" fill="none" stroke="#8a8a8a" stroke-width="0.42" stroke-linejoin="round"/>
<polyline points="106.15,39.49 106.47,38.64 107.16,38.06 106.95,37.45 106.38,37.37" fill="none" stroke="#8a8a8a" stroke-width="0.42" stroke-linejoin="round"/>
<polyline points="106.02,40.35 107.45,40.95 109.95,39.33" fill="none" stroke="#8a8a8a" stroke-width="0.42" stroke-linejoin="round"/>
<polyline points="109.95,39.33 112.79,37.73 113.27,35.84 113.15,34.68 113.85,34.29 114.51,33.29" fill="none" stroke="#8a8a8a" stroke-width="0.42" stroke-linejoin="round"/>
<polyline points="106.57,35.53 106.91,35.18 107.26,34.84 107.33,33.95 107.75,34.26 109.15,33.81 109.84,34.12 110.89,34.11 112.36,33.51 113.05,33.54 114.51,33.29" fill="none" stroke="#8a8a8a" stroke-width="0.42" stroke-linejoin="round"/>
<polyline points="109.95,39.33 110.47,41.18" fill="none" stroke="#8a8a8a" stroke-width="0.42" stroke-linejoin="round"/>
<polyline points="110.47,41.18 110.23,41.41 107.66,42.17 108.94,43.66 108.52,43.91 108.30,44.41 107.33,44.61 107.02,45.14 106.47,45.60 105.04,45.36" fill="none" stroke="#8a8a8a" stroke-width="0.42" stroke-linejoin="round"/>
<polyline points="114.51,33.29 115.06,33.04 116.55,33.24 117.00,33.65 117.61,33.38" fill="none" stroke="#8a8a8a" stroke-width="0.42" stroke-linejoin="round"/>
<polyline points="117.61,33.38 118.44,35.28 119.28,35.76 119.37,36.68 118.73,37.21 118.43,38.42 119.32,39.88 120.89,40.72 121.55,41.87 121.34,42.95 121.75,42.95 121.76,43.74 122.47,44.52" fill="none" stroke="#8a8a8a" stroke-width="0.42" stroke-linejoin="round"/>
<polyline points="110.47,41.18 112.01,41.59 113.92,42.64 117.53,45.62 119.91,45.74" fill="none" stroke="#8a8a8a" stroke-width="0.42" stroke-linejoin="round"/>
<polyline points="119.91,45.74 120.85,44.33 121.71,44.45" fill="none" stroke="#8a8a8a" stroke-width="0.42" stroke-linejoin="round"/>
<polyline points="119.91,45.74 121.05,45.88 121.37,46.58 122.27,46.54" fill="none" stroke="#8a8a8a" stroke-width="0.42" stroke-linejoin="round"/>
<polyline points="125.34,51.98 125.72,52.26 126.08,52.16" fill="none" stroke="#8a8a8a" stroke-width="0.42" stroke-linejoin="round"/>
<polyline points="126.32,52.70 126.37,53.02 126.86,54.43 130.71,55.13 130.97,54.84" fill="none" stroke="#8a8a8a" stroke-width="0.42" stroke-linejoin="round"/>
<polyline points="130.97,54.84 131.55,55.82 130.70,58.56 126.86,59.92" fill="none" stroke="#8a8a8a" stroke-width="0.42" stroke-linejoin="round"/>
<polyline points="126.86,59.92 123.17,60.44 121.97,61.05 121.06,62.46 120.46,62.68 120.14,62.23 119.65,62.30 118.41,62.17 118.18,62.03 116.70,62.06 116.35,62.18 115.83,61.84 115.49,62.49 115.62,63.06 115.06,63.48" fill="none" stroke="#8a8a8a" stroke-width="0.42" stroke-linejoin="round"/>
<polyline points="126.86,59.92 127.86,62.14 128.28,63.08" fill="none" stroke="#8a8a8a" stroke-width="0.42" stroke-linejoin="round"/>
<polyline points="130.97,54.84 131.00,54.28 131.37,53.70 131.38,53.13 131.96,52.86 131.73,52.66 131.83,51.74 132.49,51.74" fill="none" stroke="#8a8a8a" stroke-width="0.42" stroke-linejoin="round"/>
<polyline points="117.64,29.23 116.76,29.70 117.16,31.58 116.91,32.09 117.61,33.38" fill="none" stroke="#8a8a8a" stroke-width="0.42" stroke-linejoin="round"/>
<polyline points="129.32,33.34 130.44,33.03 131.35,32.10 132.21,32.15 132.77,31.85 133.68,32.00 135.10,32.82 136.12,32.99 137.58,34.41 138.54,34.47 138.65,35.80" fill="none" stroke="#8a8a8a" stroke-width="0.42" stroke-linejoin="round"/>
<polyline points="138.65,35.80 138.13,37.75 137.78,38.87 138.33,39.10 137.79,39.94 138.21,41.15 138.31,42.11 139.28,42.36 139.38,43.32 138.22,44.67" fill="none" stroke="#8a8a8a" stroke-width="0.42" stroke-linejoin="round"/>
<polyline points="138.22,44.67 138.85,45.44 139.37,46.32 140.59,46.96 140.63,48.24 141.24,48.47 141.35,49.13 139.50,49.87 139.02,51.52" fill="none" stroke="#8a8a8a" stroke-width="0.42" stroke-linejoin="round"/>
<polyline points="138.65,35.80 139.96,36.40 140.92,36.19 141.19,35.47 142.20,35.24 142.92,34.75 143.18,33.48 144.25,33.17 144.45,32.59 145.06,33.02 145.44,33.07" fill="none" stroke="#8a8a8a" stroke-width="0.42" stroke-linejoin="round"/>
<polyline points="138.22,44.67 140.36,45.42 141.64,45.20 142.41,45.38 142.67,45.06 143.56,45.19 145.22,44.58 145.27,43.32 145.98,42.47 146.93,42.47 147.07,42.06 148.05,41.86 148.53,42.00 149.03,41.58 148.96,40.67 149.50,39.75 150.31,39.36 149.81,38.34 151.03,38.39 151.38,37.83 151.33,37.24 151.96,36.58 151.82,35.80 151.52,35.13 152.26,34.44 153.64,34.10 155.11,33.92 155.76,33.62 156.50,33.44" fill="none" stroke="#8a8a8a" stroke-width="0.42" stroke-linejoin="round"/>
<ellipse cx="102.5" cy="85.1" rx="1.85" ry="1.75" fill="#fff" stroke="#7a7a7a" stroke-width="0.45"/>
</g>
<line x1="22.6" y1="40.5" x2="50.5" y2="40.3" stroke="#1e1e1e" stroke-width="1.0"/>
<line x1="79.9" y1="20.4" x2="98.0" y2="45.2" stroke="#1e1e1e" stroke-width="1.0"/>
<line x1="107.3" y1="12.0" x2="108.4" y2="42.2" stroke="#1e1e1e" stroke-width="1.0"/>
<line x1="137.2" y1="25.2" x2="110.9" y2="35.5" stroke="#1e1e1e" stroke-width="1.0"/>
<line x1="147.6" y1="40.9" x2="121.0" y2="50.5" stroke="#1e1e1e" stroke-width="1.0"/>
<line x1="160.6" y1="53.5" x2="131.7" y2="53.5" stroke="#1e1e1e" stroke-width="1.0"/>
<line x1="149.0" y1="82.0" x2="134.6" y2="57.5" stroke="#1e1e1e" stroke-width="1.0"/>
<line x1="139.0" y1="87.8" x2="123.9" y2="64.1" stroke="#1e1e1e" stroke-width="1.0"/>
<circle cx="50.5" cy="40.3" r="1.45" fill="#2f8bd0"/>
<circle cx="98.0" cy="45.2" r="1.45" fill="#2f8bd0"/>
<circle cx="108.4" cy="42.2" r="1.45" fill="#2f8bd0"/>
<circle cx="110.9" cy="35.5" r="1.45" fill="#2f8bd0"/>
<circle cx="121.0" cy="50.5" r="1.45" fill="#2f8bd0"/>
<circle cx="131.7" cy="53.5" r="1.45" fill="#2f8bd0"/>
<circle cx="134.6" cy="57.5" r="1.45" fill="#2f8bd0"/>
<circle cx="123.9" cy="64.1" r="1.45" fill="#2f8bd0"/>
<text x="5.0" y="41.85" font-size="4.2" fill="#111">MAR (2)</text>
<text x="66.2" y="18.95" font-size="4.2" fill="#111">EGY (2)</text>
<text x="102.2" y="9.95" font-size="4.2" fill="#111">JO (1)</text>
<text x="137.5" y="26.35" font-size="4.2" fill="#111">SYR (1)</text>
<text x="148.2" y="41.35" font-size="4.2" fill="#111">KSA (2)</text>
<text x="162.4" y="55.45" font-size="4.2" fill="#111">UAE (40)</text>
<text x="147.8" y="86.45" font-size="4.2" fill="#111">OM (2)</text>
<text x="136.1" y="92.35" font-size="4.2" fill="#111">YE (1)</text>
<text x="0.6" y="7.7" font-size="8.6" font-weight="bold" fill="#111">a.</text>
<text x="188.8" y="7.6" font-size="8.6" font-weight="bold" fill="#111">b.</text>
<text x="548.8" y="7.8" font-size="8.6" font-weight="bold" fill="#111">c.</text>
<text x="0.6" y="153.2" font-size="8.6" font-weight="bold" fill="#111">d.</text>
<text x="539.3" y="153.3" font-size="8.6" font-weight="bold" fill="#111">e.</text>
<line x1="214.5" y1="2.6" x2="214.5" y2="133.4" stroke="#555" stroke-width="0.6"/>
<line x1="214.2" y1="133.4" x2="542.7" y2="133.4" stroke="#555" stroke-width="0.6"/>
<text x="211.9" y="135.15" font-size="5.2" font-family="Liberation Serif, serif" text-anchor="end" fill="#222">0</text>
<text x="211.9" y="116.97" font-size="5.2" font-family="Liberation Serif, serif" text-anchor="end" fill="#222">50</text>
<text x="211.9" y="98.79" font-size="5.2" font-family="Liberation Serif, serif" text-anchor="end" fill="#222">100</text>
<text x="211.9" y="80.61" font-size="5.2" font-family="Liberation Serif, serif" text-anchor="end" fill="#222">150</text>
<text x="211.9" y="62.43" font-size="5.2" font-family="Liberation Serif, serif" text-anchor="end" fill="#222">200</text>
<text x="211.9" y="44.25" font-size="5.2" font-family="Liberation Serif, serif" text-anchor="end" fill="#222">250</text>
<text x="211.9" y="26.07" font-size="5.2" font-family="Liberation Serif, serif" text-anchor="end" fill="#222">300</text>
<text x="211.9" y="7.89" font-size="5.2" font-family="Liberation Serif, serif" text-anchor="end" fill="#222">350</text>
<rect x="229.20" y="9.2" width="7.75" height="124.20" fill="#3b6aa8"/>
<line x1="233.07" y1="133.4" x2="233.07" y2="134.4" stroke="#555" stroke-width="0.4"/>
<text x="233.07" y="139.7" font-size="5.0" font-family="Liberation Serif, serif" text-anchor="middle" fill="#222" textLength="7.4" lengthAdjust="spacingAndGlyphs">100</text>
<rect x="238.89" y="29.9" width="7.75" height="103.50" fill="#3b6aa8"/>
<line x1="242.76" y1="133.4" x2="242.76" y2="134.4" stroke="#555" stroke-width="0.4"/>
<text x="242.76" y="139.7" font-size="5.0" font-family="Liberation Serif, serif" text-anchor="middle" fill="#222" textLength="7.4" lengthAdjust="spacingAndGlyphs">110</text>
<rect x="248.58" y="47.3" width="7.75" height="86.10" fill="#3b6aa8"/>
<line x1="252.45" y1="133.4" x2="252.45" y2="134.4" stroke="#555" stroke-width="0.4"/>
<text x="252.45" y="139.7" font-size="5.0" font-family="Liberation Serif, serif" text-anchor="middle" fill="#222" textLength="7.4" lengthAdjust="spacingAndGlyphs">120</text>
<rect x="258.27" y="62.1" width="7.75" height="71.30" fill="#3b6aa8"/>
<line x1="262.14" y1="133.4" x2="262.14" y2="134.4" stroke="#555" stroke-width="0.4"/>
<text x="262.14" y="139.7" font-size="5.0" font-family="Liberation Serif, serif" text-anchor="middle" fill="#222" textLength="7.4" lengthAdjust="spacingAndGlyphs">130</text>
<rect x="267.96" y="74.3" width="7.75" height="59.10" fill="#3b6aa8"/>
<line x1="271.83" y1="133.4" x2="271.83" y2="134.4" stroke="#555" stroke-width="0.4"/>
<text x="271.83" y="139.7" font-size="5.0" font-family="Liberation Serif, serif" text-anchor="middle" fill="#222" textLength="7.4" lengthAdjust="spacingAndGlyphs">140</text>
<rect x="277.65" y="84.8" width="7.75" height="48.60" fill="#3b6aa8"/>
<line x1="281.52" y1="133.4" x2="281.52" y2="134.4" stroke="#555" stroke-width="0.4"/>
<text x="281.52" y="139.7" font-size="5.0" font-family="Liberation Serif, serif" text-anchor="middle" fill="#222" textLength="7.4" lengthAdjust="spacingAndGlyphs">150</text>
<rect x="287.34" y="93.1" width="7.75" height="40.30" fill="#3b6aa8"/>
<line x1="291.21" y1="133.4" x2="291.21" y2="134.4" stroke="#555" stroke-width="0.4"/>
<text x="291.21" y="139.7" font-size="5.0" font-family="Liberation Serif, serif" text-anchor="middle" fill="#222" textLength="7.4" lengthAdjust="spacingAndGlyphs">160</text>
<rect x="297.03" y="100" width="7.75" height="33.40" fill="#3b6aa8"/>
<line x1="300.90" y1="133.4" x2="300.90" y2="134.4" stroke="#555" stroke-width="0.4"/>
<text x="300.90" y="139.7" font-size="5.0" font-family="Liberation Serif, serif" text-anchor="middle" fill="#222" textLength="7.4" lengthAdjust="spacingAndGlyphs">170</text>
<rect x="306.72" y="106.1" width="7.75" height="27.30" fill="#3b6aa8"/>
<line x1="310.59" y1="133.4" x2="310.59" y2="134.4" stroke="#555" stroke-width="0.4"/>
<text x="310.59" y="139.7" font-size="5.0" font-family="Liberation Serif, serif" text-anchor="middle" fill="#222" textLength="7.4" lengthAdjust="spacingAndGlyphs">180</text>
<rect x="316.41" y="110.8" width="7.75" height="22.60" fill="#3b6aa8"/>
<line x1="320.28" y1="133.4" x2="320.28" y2="134.4" stroke="#555" stroke-width="0.4"/>
<text x="320.28" y="139.7" font-size="5.0" font-family="Liberation Serif, serif" text-anchor="middle" fill="#222" textLength="7.4" lengthAdjust="spacingAndGlyphs">190</text>
<rect x="326.10" y="114.9" width="7.75" height="18.50" fill="#3b6aa8"/>
<line x1="329.97" y1="133.4" x2="329.97" y2="134.4" stroke="#555" stroke-width="0.4"/>
<text x="329.97" y="139.7" font-size="5.0" font-family="Liberation Serif, serif" text-anchor="middle" fill="#222" textLength="7.4" lengthAdjust="spacingAndGlyphs">200</text>
<rect x="335.79" y="117.9" width="7.75" height="15.50" fill="#3b6aa8"/>
<line x1="339.66" y1="133.4" x2="339.66" y2="134.4" stroke="#555" stroke-width="0.4"/>
<text x="339.66" y="139.7" font-size="5.0" font-family="Liberation Serif, serif" text-anchor="middle" fill="#222" textLength="7.4" lengthAdjust="spacingAndGlyphs">210</text>
<rect x="345.48" y="120.7" width="7.75" height="12.70" fill="#3b6aa8"/>
<line x1="349.35" y1="133.4" x2="349.35" y2="134.4" stroke="#555" stroke-width="0.4"/>
<text x="349.35" y="139.7" font-size="5.0" font-family="Liberation Serif, serif" text-anchor="middle" fill="#222" textLength="7.4" lengthAdjust="spacingAndGlyphs">220</text>
<rect x="355.17" y="123" width="7.75" height="10.40" fill="#3b6aa8"/>
<line x1="359.04" y1="133.4" x2="359.04" y2="134.4" stroke="#555" stroke-width="0.4"/>
<text x="359.04" y="139.7" font-size="5.0" font-family="Liberation Serif, serif" text-anchor="middle" fill="#222" textLength="7.4" lengthAdjust="spacingAndGlyphs">230</text>
<rect x="364.86" y="124.5" width="7.75" height="8.90" fill="#3b6aa8"/>
<line x1="368.73" y1="133.4" x2="368.73" y2="134.4" stroke="#555" stroke-width="0.4"/>
<text x="368.73" y="139.7" font-size="5.0" font-family="Liberation Serif, serif" text-anchor="middle" fill="#222" textLength="7.4" lengthAdjust="spacingAndGlyphs">240</text>
<rect x="374.55" y="126.1" width="7.75" height="7.30" fill="#3b6aa8"/>
<line x1="378.42" y1="133.4" x2="378.42" y2="134.4" stroke="#555" stroke-width="0.4"/>
<text x="378.42" y="139.7" font-size="5.0" font-family="Liberation Serif, serif" text-anchor="middle" fill="#222" textLength="7.4" lengthAdjust="spacingAndGlyphs">250</text>
<rect x="384.24" y="127.2" width="7.75" height="6.20" fill="#3b6aa8"/>
<line x1="388.11" y1="133.4" x2="388.11" y2="134.4" stroke="#555" stroke-width="0.4"/>
<text x="388.11" y="139.7" font-size="5.0" font-family="Liberation Serif, serif" text-anchor="middle" fill="#222" textLength="7.4" lengthAdjust="spacingAndGlyphs">260</text>
<rect x="393.93" y="128.3" width="7.75" height="5.10" fill="#3b6aa8"/>
<line x1="397.80" y1="133.4" x2="397.80" y2="134.4" stroke="#555" stroke-width="0.4"/>
<text x="397.80" y="139.7" font-size="5.0" font-family="Liberation Serif, serif" text-anchor="middle" fill="#222" textLength="7.4" lengthAdjust="spacingAndGlyphs">270</text>
<rect x="403.62" y="129" width="7.75" height="4.40" fill="#3b6aa8"/>
<line x1="407.49" y1="133.4" x2="407.49" y2="134.4" stroke="#555" stroke-width="0.4"/>
<text x="407.49" y="139.7" font-size="5.0" font-family="Liberation Serif, serif" text-anchor="middle" fill="#222" textLength="7.4" lengthAdjust="spacingAndGlyphs">280</text>
<rect x="413.31" y="129.8" width="7.75" height="3.60" fill="#3b6aa8"/>
<line x1="417.18" y1="133.4" x2="417.18" y2="134.4" stroke="#555" stroke-width="0.4"/>
<text x="417.18" y="139.7" font-size="5.0" font-family="Liberation Serif, serif" text-anchor="middle" fill="#222" textLength="7.4" lengthAdjust="spacingAndGlyphs">290</text>
<rect x="423.00" y="130.3" width="7.75" height="3.10" fill="#3b6aa8"/>
<line x1="426.87" y1="133.4" x2="426.87" y2="134.4" stroke="#555" stroke-width="0.4"/>
<text x="426.87" y="139.7" font-size="5.0" font-family="Liberation Serif, serif" text-anchor="middle" fill="#222" textLength="7.4" lengthAdjust="spacingAndGlyphs">300</text>
<rect x="432.69" y="130.8" width="7.75" height="2.60" fill="#3b6aa8"/>
<line x1="436.56" y1="133.4" x2="436.56" y2="134.4" stroke="#555" stroke-width="0.4"/>
<text x="436.56" y="139.7" font-size="5.0" font-family="Liberation Serif, serif" text-anchor="middle" fill="#222" textLength="7.4" lengthAdjust="spacingAndGlyphs">310</text>
<rect x="442.38" y="131.2" width="7.75" height="2.20" fill="#3b6aa8"/>
<line x1="446.25" y1="133.4" x2="446.25" y2="134.4" stroke="#555" stroke-width="0.4"/>
<text x="446.25" y="139.7" font-size="5.0" font-family="Liberation Serif, serif" text-anchor="middle" fill="#222" textLength="7.4" lengthAdjust="spacingAndGlyphs">320</text>
<rect x="452.07" y="131.5" width="7.75" height="1.90" fill="#3b6aa8"/>
<line x1="455.94" y1="133.4" x2="455.94" y2="134.4" stroke="#555" stroke-width="0.4"/>
<text x="455.94" y="139.7" font-size="5.0" font-family="Liberation Serif, serif" text-anchor="middle" fill="#222" textLength="7.4" lengthAdjust="spacingAndGlyphs">330</text>
<rect x="461.76" y="132" width="7.75" height="1.40" fill="#3b6aa8"/>
<line x1="465.63" y1="133.4" x2="465.63" y2="134.4" stroke="#555" stroke-width="0.4"/>
<text x="465.63" y="139.7" font-size="5.0" font-family="Liberation Serif, serif" text-anchor="middle" fill="#222" textLength="7.4" lengthAdjust="spacingAndGlyphs">340</text>
<rect x="471.45" y="132.1" width="7.75" height="1.30" fill="#3b6aa8"/>
<line x1="475.32" y1="133.4" x2="475.32" y2="134.4" stroke="#555" stroke-width="0.4"/>
<text x="475.32" y="139.7" font-size="5.0" font-family="Liberation Serif, serif" text-anchor="middle" fill="#222" textLength="7.4" lengthAdjust="spacingAndGlyphs">350</text>
<rect x="481.14" y="132.3" width="7.75" height="1.10" fill="#3b6aa8"/>
<line x1="485.01" y1="133.4" x2="485.01" y2="134.4" stroke="#555" stroke-width="0.4"/>
<text x="485.01" y="139.7" font-size="5.0" font-family="Liberation Serif, serif" text-anchor="middle" fill="#222" textLength="7.4" lengthAdjust="spacingAndGlyphs">360</text>
<rect x="490.83" y="132.4" width="7.75" height="1.00" fill="#3b6aa8"/>
<line x1="494.70" y1="133.4" x2="494.70" y2="134.4" stroke="#555" stroke-width="0.4"/>
<text x="494.70" y="139.7" font-size="5.0" font-family="Liberation Serif, serif" text-anchor="middle" fill="#222" textLength="7.4" lengthAdjust="spacingAndGlyphs">370</text>
<rect x="500.52" y="132.6" width="7.75" height="0.80" fill="#3b6aa8"/>
<line x1="504.39" y1="133.4" x2="504.39" y2="134.4" stroke="#555" stroke-width="0.4"/>
<text x="504.39" y="139.7" font-size="5.0" font-family="Liberation Serif, serif" text-anchor="middle" fill="#222" textLength="7.4" lengthAdjust="spacingAndGlyphs">380</text>
<rect x="510.21" y="132.8" width="7.75" height="0.60" fill="#3b6aa8"/>
<line x1="514.08" y1="133.4" x2="514.08" y2="134.4" stroke="#555" stroke-width="0.4"/>
<text x="514.08" y="139.7" font-size="5.0" font-family="Liberation Serif, serif" text-anchor="middle" fill="#222" textLength="7.4" lengthAdjust="spacingAndGlyphs">390</text>
<rect x="519.90" y="126.4" width="7.75" height="7.00" fill="#3b6aa8"/>
<line x1="523.77" y1="133.4" x2="523.77" y2="134.4" stroke="#555" stroke-width="0.4"/>
<text x="523.77" y="139.7" font-size="5.0" font-family="Liberation Serif, serif" text-anchor="middle" fill="#222" textLength="9.6" lengthAdjust="spacingAndGlyphs">>400</text>
<text x="376.3" y="147.3" font-size="5.7" font-weight="bold" text-anchor="middle" fill="#111">Read Length (Kb)</text>
<text transform="translate(200.1,69.5) rotate(-90)" font-size="5.8" font-weight="bold" text-anchor="middle" fill="#111">Yield (Gb)</text>
<line x1="575.5" y1="0.8" x2="575.5" y2="133.3" stroke="#bdbdbd" stroke-width="1.0"/>
<line x1="575.0" y1="133.2" x2="659.6" y2="133.2" stroke="#666" stroke-width="0.75"/>
<text x="573.8" y="9.55" font-size="4.9" text-anchor="end" fill="#222">100</text>
<text x="571.3" y="51.35" font-size="4.9" text-anchor="end" fill="#222">90</text>
<text x="571.3" y="93.15" font-size="4.9" text-anchor="end" fill="#222">80</text>
<text x="571.3" y="134.95" font-size="4.9" text-anchor="end" fill="#222">70</text>
<line x1="582.8" y1="133.3" x2="582.8" y2="134.3" stroke="#555" stroke-width="0.4"/>
<line x1="595.3" y1="133.3" x2="595.3" y2="134.3" stroke="#555" stroke-width="0.4"/>
<line x1="610.8" y1="133.3" x2="610.8" y2="134.3" stroke="#555" stroke-width="0.4"/>
<line x1="623.4" y1="133.3" x2="623.4" y2="134.3" stroke="#555" stroke-width="0.4"/>
<line x1="639.0" y1="133.3" x2="639.0" y2="134.3" stroke="#555" stroke-width="0.4"/>
<line x1="651.6" y1="133.3" x2="651.6" y2="134.3" stroke="#555" stroke-width="0.4"/>
<text x="588.6" y="140.0" font-size="4.5" text-anchor="middle" fill="#222">Acrocentric</text>
<text x="613.6" y="140.0" font-size="4.5" text-anchor="middle" fill="#222">Metacentric</text>
<text x="643.5" y="140.0" font-size="4.5" text-anchor="middle" fill="#222">Submetacentric</text>
<text transform="translate(560.7,72.8) rotate(-90)" font-size="5.5" font-weight="bold" text-anchor="middle" fill="#111">Coverage %</text>
<line x1="582.80" y1="10.2" x2="582.80" y2="13.0" stroke="#8f8f8f" stroke-width="0.45"/>
<rect x="578.00" y="7.0" width="9.60" height="3.20" fill="#56b1e1" stroke="#3f86b4" stroke-width="0.35"/>
<line x1="578.00" y1="8.3" x2="587.60" y2="8.3" stroke="#2f6f8f" stroke-width="0.7"/>
<circle cx="582.80" cy="14.70" r="0.6" fill="#2a5570"/>
<circle cx="582.80" cy="15.25" r="0.6" fill="#2a5570"/>
<circle cx="582.80" cy="15.80" r="0.6" fill="#2a5570"/>
<circle cx="582.80" cy="16.35" r="0.6" fill="#2a5570"/>
<circle cx="582.80" cy="16.90" r="0.6" fill="#2a5570"/>
<circle cx="582.80" cy="17.45" r="0.6" fill="#2a5570"/>
<circle cx="582.80" cy="18.00" r="0.6" fill="#2a5570"/>
<circle cx="582.80" cy="18.55" r="0.6" fill="#2a5570"/>
<circle cx="582.80" cy="19.10" r="0.6" fill="#2a5570"/>
<circle cx="582.80" cy="19.65" r="0.6" fill="#2a5570"/>
<circle cx="582.80" cy="20.20" r="0.6" fill="#2a5570"/>
<circle cx="582.80" cy="20.75" r="0.6" fill="#2a5570"/>
<circle cx="582.80" cy="21.30" r="0.6" fill="#2a5570"/>
<circle cx="582.80" cy="21.85" r="0.6" fill="#2a5570"/>
<circle cx="582.80" cy="22.40" r="0.6" fill="#2a5570"/>
<circle cx="582.80" cy="27.60" r="0.6" fill="#2a5570"/>
<circle cx="582.80" cy="30.70" r="0.6" fill="#2a5570"/>
<line x1="595.30" y1="8.1" x2="595.30" y2="15.9" stroke="#8f8f8f" stroke-width="0.45"/>
<line x1="595.30" y1="29.0" x2="595.30" y2="42.8" stroke="#8f8f8f" stroke-width="0.45"/>
<rect x="590.50" y="15.9" width="9.60" height="13.10" fill="#ec1f5a" stroke="#cc1a4c" stroke-width="0.35"/>
<line x1="590.50" y1="21.4" x2="600.10" y2="21.4" stroke="#9a1238" stroke-width="0.7"/>
<circle cx="595.30" cy="53.80" r="0.6" fill="#a0183c"/>
<circle cx="595.30" cy="57.40" r="0.6" fill="#a0183c"/>
<circle cx="595.30" cy="61.70" r="0.6" fill="#a0183c"/>
<circle cx="595.30" cy="63.60" r="0.6" fill="#a0183c"/>
<circle cx="595.30" cy="65.40" r="0.6" fill="#a0183c"/>
<circle cx="595.30" cy="67.00" r="0.6" fill="#a0183c"/>
<circle cx="595.30" cy="69.00" r="0.6" fill="#a0183c"/>
<circle cx="595.30" cy="71.90" r="0.6" fill="#a0183c"/>
<circle cx="595.30" cy="74.40" r="0.6" fill="#a0183c"/>
<circle cx="595.30" cy="79.90" r="0.6" fill="#a0183c"/>
<circle cx="595.30" cy="82.80" r="0.6" fill="#a0183c"/>
<circle cx="595.30" cy="86.40" r="0.6" fill="#a0183c"/>
<circle cx="595.30" cy="93.60" r="0.6" fill="#a0183c"/>
<circle cx="595.30" cy="99.80" r="0.6" fill="#a0183c"/>
<circle cx="595.30" cy="116.00" r="0.6" fill="#a0183c"/>
<circle cx="595.30" cy="117.90" r="0.6" fill="#a0183c"/>
<circle cx="595.30" cy="119.70" r="0.6" fill="#a0183c"/>
<line x1="610.80" y1="7.8" x2="610.80" y2="11.5" stroke="#8f8f8f" stroke-width="0.45"/>
<rect x="605.90" y="7.0" width="9.80" height="0.80" fill="#5d8aa6" stroke="#3d6178" stroke-width="0.35"/>
<circle cx="610.80" cy="8.50" r="0.62" fill="#2a5570"/>
<circle cx="610.80" cy="9.50" r="0.62" fill="#2a5570"/>
<circle cx="610.80" cy="10.50" r="0.62" fill="#2a5570"/>
<circle cx="610.80" cy="11.50" r="0.62" fill="#2a5570"/>
<circle cx="610.80" cy="12.50" r="0.62" fill="#2a5570"/>
<circle cx="610.80" cy="13.80" r="0.62" fill="#2a5570"/>
<circle cx="610.80" cy="15.20" r="0.62" fill="#2a5570"/>
<circle cx="610.80" cy="16.80" r="0.62" fill="#2a5570"/>
<circle cx="610.80" cy="18.90" r="0.62" fill="#2a5570"/>
<line x1="623.40" y1="8.1" x2="623.40" y2="10.0" stroke="#8f8f8f" stroke-width="0.45"/>
<line x1="623.40" y1="16.4" x2="623.40" y2="22.4" stroke="#8f8f8f" stroke-width="0.45"/>
<rect x="618.60" y="10.0" width="9.60" height="6.40" fill="#ec1f5a" stroke="#cc1a4c" stroke-width="0.35"/>
<line x1="618.60" y1="12.9" x2="628.20" y2="12.9" stroke="#9a1238" stroke-width="0.7"/>
<circle cx="623.40" cy="26.20" r="0.65" fill="#a0183c"/>
<circle cx="623.40" cy="28.40" r="0.65" fill="#a0183c"/>
<circle cx="623.40" cy="31.90" r="0.65" fill="#a0183c"/>
<line x1="639.00" y1="7.8" x2="639.00" y2="10.5" stroke="#8f8f8f" stroke-width="0.45"/>
<rect x="634.10" y="7.0" width="9.80" height="0.80" fill="#5d8aa6" stroke="#3d6178" stroke-width="0.35"/>
<circle cx="639.00" cy="8.30" r="0.65" fill="#2a5570"/>
<circle cx="639.00" cy="8.85" r="0.65" fill="#2a5570"/>
<circle cx="639.00" cy="9.40" r="0.65" fill="#2a5570"/>
<circle cx="639.00" cy="9.95" r="0.65" fill="#2a5570"/>
<circle cx="639.00" cy="10.50" r="0.65" fill="#2a5570"/>
<circle cx="639.00" cy="11.05" r="0.65" fill="#2a5570"/>
<circle cx="639.00" cy="11.60" r="0.65" fill="#2a5570"/>
<circle cx="639.00" cy="12.15" r="0.65" fill="#2a5570"/>
<circle cx="639.00" cy="12.70" r="0.65" fill="#2a5570"/>
<circle cx="639.00" cy="13.25" r="0.65" fill="#2a5570"/>
<circle cx="639.00" cy="13.80" r="0.65" fill="#2a5570"/>
<circle cx="639.00" cy="15.30" r="0.65" fill="#2a5570"/>
<circle cx="639.00" cy="15.85" r="0.65" fill="#2a5570"/>
<circle cx="639.00" cy="16.40" r="0.65" fill="#2a5570"/>
<circle cx="639.00" cy="16.95" r="0.65" fill="#2a5570"/>
<circle cx="639.00" cy="17.50" r="0.65" fill="#2a5570"/>
<circle cx="639.00" cy="18.05" r="0.65" fill="#2a5570"/>
<circle cx="639.00" cy="18.60" r="0.65" fill="#2a5570"/>
<circle cx="639.00" cy="19.15" r="0.65" fill="#2a5570"/>
<line x1="651.60" y1="12.1" x2="651.60" y2="15.0" stroke="#8f8f8f" stroke-width="0.45"/>
<rect x="646.80" y="7.8" width="9.60" height="4.30" fill="#ec1f5a" stroke="#cc1a4c" stroke-width="0.35"/>
<line x1="646.80" y1="9.8" x2="656.40" y2="9.8" stroke="#9a1238" stroke-width="0.7"/>
<circle cx="651.60" cy="17.20" r="0.6" fill="#a0183c"/>
<circle cx="651.60" cy="18.10" r="0.6" fill="#a0183c"/>
<circle cx="651.60" cy="19.00" r="0.6" fill="#a0183c"/>
<circle cx="651.60" cy="19.90" r="0.6" fill="#a0183c"/>
<circle cx="651.60" cy="20.80" r="0.6" fill="#a0183c"/>
<circle cx="651.60" cy="21.70" r="0.6" fill="#a0183c"/>
<circle cx="651.60" cy="22.60" r="0.6" fill="#a0183c"/>
<circle cx="651.60" cy="23.50" r="0.6" fill="#a0183c"/>
<circle cx="651.60" cy="24.40" r="0.6" fill="#a0183c"/>
<circle cx="651.60" cy="25.30" r="0.6" fill="#a0183c"/>
<circle cx="651.60" cy="26.20" r="0.6" fill="#a0183c"/>
<circle cx="651.60" cy="27.10" r="0.6" fill="#a0183c"/>
<circle cx="651.60" cy="28.00" r="0.6" fill="#a0183c"/>
<circle cx="651.60" cy="28.90" r="0.6" fill="#a0183c"/>
<circle cx="651.60" cy="29.80" r="0.6" fill="#a0183c"/>
<circle cx="651.60" cy="30.70" r="0.6" fill="#a0183c"/>
<circle cx="651.60" cy="31.60" r="0.6" fill="#a0183c"/>
<circle cx="651.60" cy="32.50" r="0.6" fill="#a0183c"/>
<circle cx="651.60" cy="33.40" r="0.6" fill="#a0183c"/>
<circle cx="651.60" cy="34.30" r="0.6" fill="#a0183c"/>
<circle cx="651.60" cy="35.20" r="0.6" fill="#a0183c"/>
<circle cx="651.60" cy="36.10" r="0.6" fill="#a0183c"/>
<circle cx="651.60" cy="40.50" r="0.6" fill="#a0183c"/>
<line x1="23.0" y1="155.0" x2="23.0" y2="274.5" stroke="#bdbdbd" stroke-width="1.0"/>
<line x1="22.5" y1="274.5" x2="535.5" y2="274.5" stroke="#666" stroke-width="0.8"/>
<text x="20.4" y="163.85" font-size="5.2" text-anchor="end" fill="#222">100</text>
<text x="20.4" y="191.85" font-size="5.2" text-anchor="end" fill="#222">75</text>
<text x="20.4" y="219.85" font-size="5.2" text-anchor="end" fill="#222">50</text>
<text x="20.4" y="247.85" font-size="5.2" text-anchor="end" fill="#222">25</text>
<text x="19.0" y="275.85" font-size="5.2" text-anchor="end" fill="#222">0</text>
<text transform="translate(8.4,215.2) rotate(-90)" font-size="5.5" font-weight="bold" text-anchor="middle" fill="#111">Coverage %</text>
<text x="44.10" y="284.3" font-size="5.05" text-anchor="middle" fill="#222">AlphaSat</text>
<line x1="34.20" y1="274.2" x2="34.20" y2="275.3" stroke="#555" stroke-width="0.4"/>
<line x1="53.20" y1="274.2" x2="53.20" y2="275.3" stroke="#555" stroke-width="0.4"/>
<text x="86.88" y="284.3" font-size="5.05" text-anchor="middle" fill="#222">AlphaSat_div</text>
<line x1="77.20" y1="274.2" x2="77.20" y2="275.3" stroke="#555" stroke-width="0.4"/>
<line x1="95.90" y1="274.2" x2="95.90" y2="275.3" stroke="#555" stroke-width="0.4"/>
<text x="130.47" y="284.3" font-size="5.05" text-anchor="middle" fill="#222">AlphaSat_mon</text>
<line x1="120.50" y1="274.2" x2="120.50" y2="275.3" stroke="#555" stroke-width="0.4"/>
<line x1="139.40" y1="274.2" x2="139.40" y2="275.3" stroke="#555" stroke-width="0.4"/>
<text x="168.82" y="284.3" font-size="5.05" text-anchor="middle" fill="#222">BetaSat</text>
<line x1="159.30" y1="274.2" x2="159.30" y2="275.3" stroke="#555" stroke-width="0.4"/>
<line x1="178.20" y1="274.2" x2="178.20" y2="275.3" stroke="#555" stroke-width="0.4"/>
<text x="210.95" y="284.3" font-size="5.05" text-anchor="middle" fill="#222">cenTransition</text>
<line x1="201.60" y1="274.2" x2="201.60" y2="275.3" stroke="#555" stroke-width="0.4"/>
<line x1="220.60" y1="274.2" x2="220.60" y2="275.3" stroke="#555" stroke-width="0.4"/>
<text x="255.22" y="284.3" font-size="5.05" text-anchor="middle" fill="#222">GammaSat</text>
<line x1="245.20" y1="274.2" x2="245.20" y2="275.3" stroke="#555" stroke-width="0.4"/>
<line x1="264.50" y1="274.2" x2="264.50" y2="275.3" stroke="#555" stroke-width="0.4"/>
<text x="297.25" y="284.3" font-size="5.05" text-anchor="middle" fill="#222">HSat_1A</text>
<line x1="287.50" y1="274.2" x2="287.50" y2="275.3" stroke="#555" stroke-width="0.4"/>
<line x1="306.30" y1="274.2" x2="306.30" y2="275.3" stroke="#555" stroke-width="0.4"/>
<text x="341.27" y="284.3" font-size="5.05" text-anchor="middle" fill="#222">HSat_1B</text>
<line x1="332.20" y1="274.2" x2="332.20" y2="275.3" stroke="#555" stroke-width="0.4"/>
<line x1="350.90" y1="274.2" x2="350.90" y2="275.3" stroke="#555" stroke-width="0.4"/>
<text x="383.00" y="284.3" font-size="5.05" text-anchor="middle" fill="#222">HSat_2</text>
<line x1="373.10" y1="274.2" x2="373.10" y2="275.3" stroke="#555" stroke-width="0.4"/>
<line x1="392.50" y1="274.2" x2="392.50" y2="275.3" stroke="#555" stroke-width="0.4"/>
<text x="423.40" y="284.3" font-size="5.05" text-anchor="middle" fill="#222">HSat_3</text>
<line x1="413.90" y1="274.2" x2="413.90" y2="275.3" stroke="#555" stroke-width="0.4"/>
<line x1="432.70" y1="274.2" x2="432.70" y2="275.3" stroke="#555" stroke-width="0.4"/>
<text x="467.38" y="284.3" font-size="5.05" text-anchor="middle" fill="#222">Other CenSat</text>
<line x1="457.40" y1="274.2" x2="457.40" y2="275.3" stroke="#555" stroke-width="0.4"/>
<line x1="476.10" y1="274.2" x2="476.10" y2="275.3" stroke="#555" stroke-width="0.4"/>
<text x="507.15" y="284.3" font-size="5.05" text-anchor="middle" fill="#222">rDNA</text>
<line x1="497.30" y1="274.2" x2="497.30" y2="275.3" stroke="#555" stroke-width="0.4"/>
<line x1="516.50" y1="274.2" x2="516.50" y2="275.3" stroke="#555" stroke-width="0.4"/>
<line x1="34.20" y1="164.0" x2="34.20" y2="167.4" stroke="#8f8f8f" stroke-width="0.45"/>
<line x1="34.20" y1="170.6" x2="34.20" y2="174.4" stroke="#8f8f8f" stroke-width="0.45"/>
<rect x="27.05" y="167.4" width="14.30" height="3.20" fill="#56b1e1" stroke="#3f86b4" stroke-width="0.35"/>
<line x1="27.05" y1="168.9" x2="41.35" y2="168.9" stroke="#2f6f8f" stroke-width="0.7"/>
<line x1="53.00" y1="170.6" x2="53.00" y2="182.3" stroke="#8f8f8f" stroke-width="0.45"/>
<line x1="53.00" y1="192.8" x2="53.00" y2="202.5" stroke="#8f8f8f" stroke-width="0.45"/>
<rect x="45.85" y="182.3" width="14.30" height="10.50" fill="#ec1f5a" stroke="#cc1a4c" stroke-width="0.35"/>
<line x1="45.85" y1="188.2" x2="60.15" y2="188.2" stroke="#9a1238" stroke-width="0.7"/>
<rect x="69.09" y="161.3" width="14.30" height="0.60" fill="#9aa4a8" stroke="#7a8488" stroke-width="0.35"/>
<circle cx="76.24" cy="161.60" r="0.95" fill="#1f5a72"/>
<rect x="87.89" y="161.3" width="14.30" height="1.40" fill="#e8a0b4" stroke="#b8405e" stroke-width="0.35"/>
<circle cx="95.04" cy="164.00" r="0.95" fill="#b0173e"/>
<circle cx="95.04" cy="165.10" r="0.95" fill="#b0173e"/>
<rect x="111.98" y="161.7" width="13.80" height="1.60" fill="#56b1e1" stroke="#3f86b4" stroke-width="0.35"/>
<rect x="129.93" y="162.8" width="14.30" height="1.40" fill="#ec1f5a" stroke="#cc1a4c" stroke-width="0.35"/>
<circle cx="137.08" cy="166.80" r="0.95" fill="#a0183c"/>
<line x1="160.32" y1="161.6" x2="160.32" y2="162.1" stroke="#8f8f8f" stroke-width="0.45"/>
<line x1="160.32" y1="174.2" x2="160.32" y2="177.8" stroke="#8f8f8f" stroke-width="0.45"/>
<rect x="153.17" y="162.1" width="14.30" height="12.10" fill="#56b1e1" stroke="#3f86b4" stroke-width="0.35"/>
<line x1="153.17" y1="173.4" x2="167.47" y2="173.4" stroke="#2f6f8f" stroke-width="0.7"/>
<line x1="179.12" y1="165.0" x2="179.12" y2="173.0" stroke="#8f8f8f" stroke-width="0.45"/>
<line x1="179.12" y1="186.7" x2="179.12" y2="202.0" stroke="#8f8f8f" stroke-width="0.45"/>
<rect x="171.97" y="173.0" width="14.30" height="13.70" fill="#ec1f5a" stroke="#cc1a4c" stroke-width="0.35"/>
<line x1="171.97" y1="179.5" x2="186.27" y2="179.5" stroke="#9a1238" stroke-width="0.7"/>
<line x1="202.36" y1="161.6" x2="202.36" y2="164.0" stroke="#8f8f8f" stroke-width="0.45"/>
<line x1="202.36" y1="202.7" x2="202.36" y2="205.6" stroke="#8f8f8f" stroke-width="0.45"/>
<rect x="195.21" y="164.0" width="14.30" height="38.70" fill="#56b1e1" stroke="#3f86b4" stroke-width="0.35"/>
<line x1="195.21" y1="201.5" x2="209.51" y2="201.5" stroke="#2f6f8f" stroke-width="0.7"/>
<line x1="221.16" y1="167.4" x2="221.16" y2="172.5" stroke="#8f8f8f" stroke-width="0.45"/>
<line x1="221.16" y1="211.6" x2="221.16" y2="214.0" stroke="#8f8f8f" stroke-width="0.45"/>
<rect x="214.01" y="172.5" width="14.30" height="39.10" fill="#ec1f5a" stroke="#cc1a4c" stroke-width="0.35"/>
<line x1="214.01" y1="209.2" x2="228.31" y2="209.2" stroke="#9a1238" stroke-width="0.7"/>
<rect x="237.25" y="162.1" width="14.30" height="1.70" fill="#56b1e1" stroke="#3f86b4" stroke-width="0.35"/>
<line x1="263.20" y1="162.0" x2="263.20" y2="164.5" stroke="#8f8f8f" stroke-width="0.45"/>
<line x1="263.20" y1="166.4" x2="263.20" y2="169.3" stroke="#8f8f8f" stroke-width="0.45"/>
<rect x="256.05" y="164.5" width="14.30" height="1.90" fill="#ec1f5a" stroke="#cc1a4c" stroke-width="0.35"/>
<line x1="286.44" y1="166.4" x2="286.44" y2="170.5" stroke="#8f8f8f" stroke-width="0.45"/>
<rect x="279.29" y="162.1" width="14.30" height="4.30" fill="#56b1e1" stroke="#3f86b4" stroke-width="0.35"/>
<circle cx="286.44" cy="173.40" r="0.95" fill="#2a5570"/>
<circle cx="286.44" cy="174.80" r="0.95" fill="#2a5570"/>
<line x1="305.24" y1="168.9" x2="305.24" y2="180.2" stroke="#8f8f8f" stroke-width="0.45"/>
<line x1="305.24" y1="200.3" x2="305.24" y2="212.4" stroke="#8f8f8f" stroke-width="0.45"/>
<rect x="298.09" y="180.2" width="14.30" height="20.10" fill="#ec1f5a" stroke="#cc1a4c" stroke-width="0.35"/>
<line x1="298.09" y1="188.7" x2="312.39" y2="188.7" stroke="#9a1238" stroke-width="0.7"/>
<rect x="321.33" y="161.4" width="14.30" height="2.40" fill="#56b1e1" stroke="#3f86b4" stroke-width="0.35"/>
<circle cx="328.48" cy="166.80" r="0.85" fill="#2a5570"/>
<circle cx="328.48" cy="168.50" r="0.85" fill="#2a5570"/>
<circle cx="328.48" cy="170.20" r="0.85" fill="#2a5570"/>
<circle cx="328.48" cy="171.90" r="0.85" fill="#2a5570"/>
<circle cx="328.48" cy="173.60" r="0.85" fill="#2a5570"/>
<circle cx="328.48" cy="175.20" r="0.85" fill="#2a5570"/>
<line x1="347.28" y1="162.6" x2="347.28" y2="177.3" stroke="#8f8f8f" stroke-width="0.45"/>
<line x1="347.28" y1="204.4" x2="347.28" y2="220.0" stroke="#8f8f8f" stroke-width="0.45"/>
<rect x="340.13" y="177.3" width="14.30" height="27.10" fill="#ec1f5a" stroke="#cc1a4c" stroke-width="0.35"/>
<line x1="340.13" y1="190.4" x2="354.43" y2="190.4" stroke="#9a1238" stroke-width="0.7"/>
<line x1="370.52" y1="162.0" x2="370.52" y2="164.0" stroke="#8f8f8f" stroke-width="0.45"/>
<rect x="363.37" y="161.2" width="14.30" height="0.80" fill="#5d8aa6" stroke="#3d6178" stroke-width="0.35"/>
<circle cx="370.52" cy="164.60" r="0.95" fill="#2a5570"/>
<circle cx="370.52" cy="167.40" r="0.95" fill="#2a5570"/>
<line x1="389.32" y1="166.9" x2="389.32" y2="173.2" stroke="#8f8f8f" stroke-width="0.45"/>
<line x1="389.32" y1="187.9" x2="389.32" y2="197.9" stroke="#8f8f8f" stroke-width="0.45"/>
<rect x="382.17" y="173.2" width="14.30" height="14.70" fill="#ec1f5a" stroke="#cc1a4c" stroke-width="0.35"/>
<line x1="382.17" y1="181.4" x2="396.47" y2="181.4" stroke="#9a1238" stroke-width="0.7"/>
<line x1="412.56" y1="196.3" x2="412.56" y2="200.2" stroke="#8f8f8f" stroke-width="0.45"/>
<rect x="405.41" y="162.4" width="14.30" height="33.90" fill="#56b1e1" stroke="#3f86b4" stroke-width="0.35"/>
<line x1="405.41" y1="195.5" x2="419.71" y2="195.5" stroke="#2f6f8f" stroke-width="0.7"/>
<line x1="431.36" y1="172.6" x2="431.36" y2="182.3" stroke="#8f8f8f" stroke-width="0.45"/>
<line x1="431.36" y1="211.5" x2="431.36" y2="219.0" stroke="#8f8f8f" stroke-width="0.45"/>
<rect x="424.21" y="182.3" width="14.30" height="29.20" fill="#ec1f5a" stroke="#cc1a4c" stroke-width="0.35"/>
<line x1="424.21" y1="204.3" x2="438.51" y2="204.3" stroke="#9a1238" stroke-width="0.7"/>
<rect x="447.45" y="161.6" width="14.30" height="3.00" fill="#56b1e1" stroke="#3f86b4" stroke-width="0.35"/>
<rect x="466.25" y="162.7" width="14.30" height="3.00" fill="#ec1f5a" stroke="#cc1a4c" stroke-width="0.35"/>
<rect x="489.49" y="161.3" width="14.30" height="0.60" fill="#9aa4a8" stroke="#7a8488" stroke-width="0.35"/>
<circle cx="496.64" cy="161.60" r="0.95" fill="#1f5a72"/>
<line x1="515.44" y1="173.4" x2="515.44" y2="192.8" stroke="#8f8f8f" stroke-width="0.45"/>
<line x1="515.44" y1="207.9" x2="515.44" y2="214.8" stroke="#8f8f8f" stroke-width="0.45"/>
<rect x="508.29" y="192.8" width="14.30" height="15.10" fill="#ec1f5a" stroke="#cc1a4c" stroke-width="0.35"/>
<line x1="508.29" y1="200.2" x2="522.59" y2="200.2" stroke="#9a1238" stroke-width="0.7"/>
<circle cx="515.44" cy="164.30" r="0.95" fill="#a0183c"/>
<circle cx="515.44" cy="170.10" r="0.95" fill="#a0183c"/>
<line x1="560.6" y1="155.7" x2="560.6" y2="274.1" stroke="#d2d2d2" stroke-width="1.0"/>
<line x1="560.1" y1="274.0" x2="685" y2="274.0" stroke="#d2d2d2" stroke-width="1.0"/>
<text transform="translate(558.2,165.65) rotate(-90)" font-size="4.8" text-anchor="middle" fill="#222">0.02</text>
<text transform="translate(558.2,182.20) rotate(-90)" font-size="4.8" text-anchor="middle" fill="#222">0.00</text>
<text transform="translate(558.2,198.75) rotate(-90)" font-size="4.8" text-anchor="middle" fill="#222">-0.02</text>
<text transform="translate(558.2,215.30) rotate(-90)" font-size="4.8" text-anchor="middle" fill="#222">-0.04</text>
<text transform="translate(558.2,231.85) rotate(-90)" font-size="4.8" text-anchor="middle" fill="#222">-0.06</text>
<text transform="translate(558.2,248.40) rotate(-90)" font-size="4.8" text-anchor="middle" fill="#222">-0.08</text>
<text transform="translate(558.2,264.95) rotate(-90)" font-size="4.8" text-anchor="middle" fill="#222">-0.10</text>
<text x="580.63" y="279.6" font-size="5.1" text-anchor="middle" fill="#222">-0.02</text>
<line x1="580.63" y1="274.0" x2="580.63" y2="275.0" stroke="#555" stroke-width="0.4"/>
<text x="607.10" y="279.6" font-size="5.1" text-anchor="middle" fill="#222">0.00</text>
<line x1="607.10" y1="274.0" x2="607.10" y2="275.0" stroke="#555" stroke-width="0.4"/>
<text x="633.57" y="279.6" font-size="5.1" text-anchor="middle" fill="#222">0.02</text>
<line x1="633.57" y1="274.0" x2="633.57" y2="275.0" stroke="#555" stroke-width="0.4"/>
<text x="660.04" y="279.6" font-size="5.1" text-anchor="middle" fill="#222">0.04</text>
<line x1="660.04" y1="274.0" x2="660.04" y2="275.0" stroke="#555" stroke-width="0.4"/>
<line x1="559.6" y1="165.65" x2="560.6" y2="165.65" stroke="#555" stroke-width="0.4"/>
<line x1="559.6" y1="182.20" x2="560.6" y2="182.20" stroke="#555" stroke-width="0.4"/>
<line x1="559.6" y1="198.75" x2="560.6" y2="198.75" stroke="#555" stroke-width="0.4"/>
<line x1="559.6" y1="215.30" x2="560.6" y2="215.30" stroke="#555" stroke-width="0.4"/>
<line x1="559.6" y1="231.85" x2="560.6" y2="231.85" stroke="#555" stroke-width="0.4"/>
<line x1="559.6" y1="248.40" x2="560.6" y2="248.40" stroke="#555" stroke-width="0.4"/>
<line x1="559.6" y1="264.95" x2="560.6" y2="264.95" stroke="#555" stroke-width="0.4"/>
<text x="621.6" y="287.4" font-size="5.7" font-weight="bold" text-anchor="middle" fill="#111">PC1 (5.64%)</text>
<text transform="translate(548.4,213.6) rotate(-90)" font-size="5.7" font-weight="bold" text-anchor="middle" fill="#111">PC2 (4.15%)</text>
<circle cx="576.28" cy="178.03" r="0.75" fill="#f3aac5"/>
<circle cx="572.50" cy="176.72" r="0.75" fill="#f3aac5"/>
<circle cx="571.23" cy="171.05" r="0.75" fill="#f3aac5"/>
<circle cx="571.18" cy="184.82" r="0.75" fill="#f3aac5"/>
<circle cx="579.68" cy="163.94" r="0.75" fill="#f3aac5"/>
<circle cx="577.35" cy="164.42" r="0.75" fill="#f3aac5"/>
<circle cx="572.58" cy="169.38" r="0.75" fill="#f3aac5"/>
<circle cx="570.32" cy="175.42" r="0.75" fill="#f3aac5"/>
<circle cx="576.11" cy="185.71" r="0.75" fill="#f3aac5"/>
<circle cx="576.35" cy="170.37" r="0.75" fill="#f3aac5"/>
<circle cx="574.35" cy="169.05" r="0.75" fill="#f3aac5"/>
<circle cx="573.98" cy="164.71" r="0.75" fill="#f3aac5"/>
<circle cx="570.93" cy="179.92" r="0.75" fill="#f3aac5"/>
<circle cx="580.88" cy="170.14" r="0.75" fill="#f3aac5"/>
<circle cx="571.13" cy="171.85" r="0.75" fill="#f3aac5"/>
<circle cx="571.56" cy="169.50" r="0.75" fill="#f3aac5"/>
<circle cx="571.32" cy="164.43" r="0.75" fill="#f3aac5"/>
<circle cx="581.14" cy="167.63" r="0.75" fill="#f3aac5"/>
<circle cx="572.59" cy="182.71" r="0.75" fill="#f3aac5"/>
<circle cx="571.75" cy="180.31" r="0.75" fill="#f3aac5"/>
<circle cx="571.54" cy="174.24" r="0.75" fill="#f3aac5"/>
<circle cx="572.90" cy="170.14" r="0.75" fill="#f3aac5"/>
<circle cx="574.19" cy="186.87" r="0.75" fill="#f3aac5"/>
<circle cx="572.87" cy="173.52" r="0.75" fill="#f3aac5"/>
<circle cx="572.91" cy="169.83" r="0.75" fill="#f3aac5"/>
<circle cx="574.08" cy="164.80" r="0.75" fill="#f3aac5"/>
<circle cx="571.17" cy="178.65" r="0.75" fill="#f3aac5"/>
<circle cx="573.33" cy="179.15" r="0.75" fill="#f3aac5"/>
<circle cx="575.14" cy="175.13" r="0.75" fill="#f3aac5"/>
<circle cx="572.48" cy="166.99" r="0.75" fill="#f3aac5"/>
<circle cx="573.42" cy="167.96" r="0.75" fill="#f3aac5"/>
<circle cx="572.67" cy="188.64" r="0.75" fill="#f3aac5"/>
<circle cx="575.84" cy="165.62" r="0.75" fill="#f3aac5"/>
<circle cx="573.26" cy="181.96" r="0.75" fill="#f3aac5"/>
<circle cx="573.52" cy="185.21" r="0.75" fill="#f3aac5"/>
<circle cx="578.31" cy="170.78" r="0.75" fill="#f3aac5"/>
<circle cx="572.37" cy="182.39" r="0.75" fill="#f3aac5"/>
<circle cx="570.87" cy="169.01" r="0.75" fill="#f3aac5"/>
<circle cx="578.56" cy="170.42" r="0.75" fill="#f3aac5"/>
<circle cx="570.13" cy="170.12" r="0.75" fill="#f3aac5"/>
<circle cx="576.18" cy="164.44" r="0.75" fill="#f3aac5"/>
<circle cx="572.39" cy="172.83" r="0.75" fill="#f3aac5"/>
<circle cx="577.97" cy="166.38" r="0.75" fill="#f3aac5"/>
<circle cx="575.01" cy="187.03" r="0.75" fill="#f3aac5"/>
<circle cx="571.88" cy="163.75" r="0.75" fill="#f3aac5"/>
<circle cx="570.20" cy="180.10" r="0.75" fill="#f3aac5"/>
<circle cx="570.96" cy="177.65" r="0.75" fill="#f3aac5"/>
<circle cx="574.86" cy="181.44" r="0.75" fill="#f3aac5"/>
<circle cx="575.78" cy="184.30" r="0.75" fill="#f3aac5"/>
<circle cx="578.71" cy="173.20" r="0.75" fill="#f3aac5"/>
<circle cx="571.03" cy="180.19" r="0.75" fill="#f3aac5"/>
<circle cx="576.11" cy="185.60" r="0.75" fill="#f3aac5"/>
<circle cx="571.08" cy="183.21" r="0.75" fill="#f3aac5"/>
<circle cx="570.32" cy="179.15" r="0.75" fill="#f3aac5"/>
<circle cx="576.68" cy="169.06" r="0.75" fill="#f3aac5"/>
<circle cx="573.51" cy="163.11" r="0.75" fill="#f3aac5"/>
<circle cx="574.14" cy="181.25" r="0.75" fill="#f3aac5"/>
<circle cx="572.76" cy="167.41" r="0.75" fill="#f3aac5"/>
<circle cx="574.51" cy="180.91" r="0.75" fill="#f3aac5"/>
<circle cx="572.70" cy="174.52" r="0.75" fill="#f3aac5"/>
<circle cx="578.12" cy="171.41" r="0.75" fill="#f3aac5"/>
<circle cx="571.82" cy="176.30" r="0.75" fill="#f3aac5"/>
<circle cx="573.80" cy="167.40" r="0.75" fill="#f3aac5"/>
<circle cx="576.25" cy="170.28" r="0.75" fill="#f3aac5"/>
<circle cx="572.92" cy="174.06" r="0.75" fill="#f3aac5"/>
<circle cx="574.35" cy="185.62" r="0.75" fill="#f3aac5"/>
<circle cx="570.95" cy="163.66" r="0.75" fill="#f3aac5"/>
<circle cx="582.21" cy="163.93" r="0.75" fill="#f3aac5"/>
<circle cx="574.26" cy="184.33" r="0.75" fill="#f3aac5"/>
<circle cx="570.17" cy="166.50" r="0.75" fill="#f3aac5"/>
<circle cx="576.31" cy="163.47" r="0.75" fill="#f3aac5"/>
<circle cx="581.60" cy="169.26" r="0.75" fill="#f3aac5"/>
<circle cx="571.89" cy="164.08" r="0.75" fill="#f3aac5"/>
<circle cx="579.55" cy="168.22" r="0.75" fill="#f3aac5"/>
<circle cx="576.60" cy="167.66" r="0.75" fill="#f3aac5"/>
<circle cx="570.05" cy="175.64" r="0.75" fill="#f3aac5"/>
<circle cx="579.97" cy="167.67" r="0.75" fill="#f3aac5"/>
<circle cx="573.74" cy="172.20" r="0.75" fill="#f3aac5"/>
<circle cx="575.45" cy="184.34" r="0.75" fill="#f3aac5"/>
<circle cx="582.68" cy="165.17" r="0.75" fill="#f3aac5"/>
<circle cx="571.73" cy="175.14" r="0.75" fill="#f3aac5"/>
<circle cx="575.21" cy="178.27" r="0.75" fill="#f3aac5"/>
<circle cx="579.08" cy="168.37" r="0.75" fill="#f3aac5"/>
<circle cx="572.91" cy="187.28" r="0.75" fill="#f3aac5"/>
<circle cx="574.42" cy="187.55" r="0.75" fill="#f3aac5"/>
<circle cx="571.07" cy="174.79" r="0.75" fill="#f3aac5"/>
<circle cx="576.77" cy="163.57" r="0.75" fill="#f3aac5"/>
<circle cx="581.31" cy="164.54" r="0.75" fill="#f3aac5"/>
<circle cx="581.18" cy="167.50" r="0.75" fill="#f3aac5"/>
<circle cx="574.62" cy="184.23" r="0.75" fill="#f3aac5"/>
<circle cx="571.88" cy="166.84" r="0.75" fill="#f3aac5"/>
<circle cx="583.28" cy="165.14" r="0.75" fill="#f3aac5"/>
<circle cx="573.02" cy="177.13" r="0.75" fill="#f3aac5"/>
<circle cx="573.99" cy="182.62" r="0.75" fill="#f3aac5"/>
<circle cx="574.29" cy="173.17" r="0.75" fill="#f3aac5"/>
<circle cx="572.84" cy="185.94" r="0.75" fill="#f3aac5"/>
<circle cx="577.98" cy="168.27" r="0.75" fill="#f3aac5"/>
<circle cx="578.43" cy="163.55" r="0.75" fill="#f3aac5"/>
<circle cx="575.55" cy="184.59" r="0.75" fill="#f3aac5"/>
<circle cx="579.64" cy="164.59" r="0.75" fill="#f3aac5"/>
<circle cx="577.50" cy="174.05" r="0.75" fill="#f3aac5"/>
<circle cx="573.70" cy="175.67" r="0.75" fill="#f3aac5"/>
<circle cx="571.69" cy="174.60" r="0.75" fill="#f3aac5"/>
<circle cx="576.62" cy="171.43" r="0.75" fill="#f3aac5"/>
<circle cx="572.60" cy="179.61" r="0.75" fill="#f3aac5"/>
<circle cx="582.95" cy="166.32" r="0.75" fill="#f3aac5"/>
<circle cx="580.89" cy="163.42" r="0.75" fill="#f3aac5"/>
<circle cx="572.64" cy="168.98" r="0.75" fill="#f3aac5"/>
<circle cx="579.59" cy="171.56" r="0.75" fill="#f3aac5"/>
<circle cx="574.91" cy="179.66" r="0.75" fill="#f3aac5"/>
<circle cx="571.38" cy="182.68" r="0.75" fill="#f3aac5"/>
<circle cx="571.63" cy="176.68" r="0.75" fill="#f3aac5"/>
<circle cx="573.43" cy="168.18" r="0.75" fill="#f3aac5"/>
<circle cx="577.38" cy="174.68" r="0.75" fill="#f3aac5"/>
<circle cx="575.20" cy="174.04" r="0.75" fill="#f3aac5"/>
<circle cx="577.36" cy="167.14" r="0.75" fill="#f3aac5"/>
<circle cx="572.78" cy="179.97" r="0.75" fill="#f3aac5"/>
<circle cx="581.98" cy="169.13" r="0.75" fill="#f3aac5"/>
<circle cx="574.34" cy="187.90" r="0.75" fill="#f3aac5"/>
<circle cx="582.41" cy="166.44" r="0.75" fill="#f3aac5"/>
<circle cx="573.27" cy="182.56" r="0.75" fill="#f3aac5"/>
<circle cx="573.56" cy="165.44" r="0.75" fill="#f3aac5"/>
<circle cx="581.04" cy="166.23" r="0.75" fill="#f3aac5"/>
<circle cx="575.58" cy="181.44" r="0.75" fill="#f3aac5"/>
<circle cx="570.15" cy="168.27" r="0.75" fill="#f3aac5"/>
<circle cx="583.55" cy="165.94" r="0.75" fill="#f3aac5"/>
<circle cx="572.57" cy="164.72" r="0.75" fill="#f3aac5"/>
<circle cx="571.40" cy="163.82" r="0.75" fill="#f3aac5"/>
<circle cx="577.92" cy="166.79" r="0.75" fill="#f3aac5"/>
<circle cx="572.50" cy="168.35" r="0.75" fill="#f3aac5"/>
<circle cx="582.97" cy="165.39" r="0.75" fill="#f3aac5"/>
<circle cx="574.51" cy="175.50" r="0.75" fill="#f3aac5"/>
<circle cx="577.17" cy="174.50" r="0.75" fill="#f3aac5"/>
<circle cx="578.37" cy="163.16" r="0.75" fill="#f3aac5"/>
<circle cx="572.46" cy="175.15" r="0.75" fill="#f3aac5"/>
<circle cx="572.65" cy="167.29" r="0.75" fill="#f3aac5"/>
<circle cx="577.13" cy="163.22" r="0.75" fill="#f3aac5"/>
<circle cx="573.54" cy="187.59" r="0.75" fill="#f3aac5"/>
<circle cx="580.09" cy="164.72" r="0.75" fill="#f3aac5"/>
<circle cx="574.72" cy="175.55" r="0.75" fill="#f3aac5"/>
<circle cx="570.05" cy="172.47" r="0.75" fill="#f3aac5"/>
<circle cx="573.17" cy="188.50" r="0.75" fill="#f3aac5"/>
<circle cx="579.29" cy="171.99" r="0.75" fill="#f3aac5"/>
<circle cx="577.42" cy="173.40" r="0.75" fill="#f3aac5"/>
<circle cx="573.52" cy="173.72" r="0.75" fill="#f3aac5"/>
<circle cx="570.61" cy="168.12" r="0.75" fill="#f3aac5"/>
<circle cx="575.20" cy="165.48" r="0.75" fill="#f3aac5"/>
<circle cx="573.44" cy="187.43" r="0.75" fill="#f3aac5"/>
<circle cx="581.31" cy="164.87" r="0.75" fill="#f3aac5"/>
<circle cx="572.16" cy="175.63" r="0.75" fill="#f3aac5"/>
<circle cx="572.28" cy="176.28" r="0.75" fill="#f3aac5"/>
<circle cx="578.52" cy="164.39" r="0.75" fill="#f3aac5"/>
<circle cx="575.05" cy="170.57" r="0.75" fill="#f3aac5"/>
<circle cx="573.90" cy="182.29" r="0.75" fill="#f3aac5"/>
<circle cx="574.07" cy="163.18" r="0.75" fill="#f3aac5"/>
<circle cx="573.35" cy="163.96" r="0.75" fill="#f3aac5"/>
<circle cx="572.11" cy="183.33" r="0.75" fill="#f3aac5"/>
<circle cx="575.40" cy="187.21" r="0.75" fill="#f3aac5"/>
<circle cx="580.45" cy="164.16" r="0.75" fill="#f3aac5"/>
<circle cx="570.94" cy="187.43" r="0.75" fill="#f3aac5"/>
<circle cx="572.30" cy="193.50" r="0.75" fill="#f3aac5"/>
<circle cx="573.90" cy="195.70" r="0.75" fill="#f3aac5"/>
<circle cx="572.80" cy="200.20" r="0.75" fill="#f3aac5"/>
<circle cx="570.30" cy="222.00" r="0.75" fill="#f3aac5"/>
<circle cx="571.10" cy="235.20" r="0.75" fill="#f3aac5"/>
<circle cx="593.30" cy="177.70" r="0.75" fill="#f3aac5"/>
<circle cx="596.40" cy="200.00" r="0.75" fill="#f3aac5"/>
<circle cx="571.50" cy="191.00" r="0.75" fill="#f3aac5"/>
<circle cx="579.90" cy="170.52" r="0.8" fill="#f41515"/>
<circle cx="587.62" cy="167.62" r="0.8" fill="#f41515"/>
<circle cx="584.06" cy="170.41" r="0.8" fill="#f41515"/>
<circle cx="582.37" cy="166.03" r="0.8" fill="#f41515"/>
<circle cx="582.66" cy="170.25" r="0.8" fill="#f41515"/>
<circle cx="576.69" cy="165.25" r="0.8" fill="#f41515"/>
<circle cx="581.30" cy="166.14" r="0.8" fill="#f41515"/>
<circle cx="580.09" cy="172.88" r="0.8" fill="#f41515"/>
<circle cx="580.27" cy="167.85" r="0.8" fill="#f41515"/>
<circle cx="582.07" cy="169.80" r="0.8" fill="#f41515"/>
<circle cx="584.85" cy="171.18" r="0.8" fill="#f41515"/>
<circle cx="584.23" cy="167.56" r="0.8" fill="#f41515"/>
<circle cx="578.90" cy="167.97" r="0.8" fill="#f41515"/>
<circle cx="583.53" cy="171.60" r="0.8" fill="#f41515"/>
<circle cx="582.20" cy="172.45" r="0.8" fill="#f41515"/>
<circle cx="584.50" cy="166.95" r="0.8" fill="#f41515"/>
<circle cx="574.36" cy="165.35" r="0.8" fill="#f41515"/>
<circle cx="577.65" cy="169.87" r="0.8" fill="#f41515"/>
<circle cx="575.03" cy="172.99" r="0.8" fill="#f41515"/>
<circle cx="581.62" cy="172.43" r="0.8" fill="#f41515"/>
<circle cx="579.10" cy="170.53" r="0.8" fill="#f41515"/>
<circle cx="576.79" cy="168.86" r="0.8" fill="#f41515"/>
<circle cx="574.86" cy="166.09" r="0.8" fill="#f41515"/>
<circle cx="584.72" cy="167.24" r="0.8" fill="#f41515"/>
<circle cx="579.83" cy="167.80" r="0.8" fill="#f41515"/>
<circle cx="585.30" cy="169.17" r="0.8" fill="#f41515"/>
<circle cx="578.42" cy="171.40" r="0.8" fill="#f41515"/>
<circle cx="579.87" cy="169.18" r="0.8" fill="#f41515"/>
<circle cx="574.91" cy="165.63" r="0.8" fill="#f41515"/>
<circle cx="581.81" cy="170.61" r="0.8" fill="#f41515"/>
<circle cx="583.53" cy="168.31" r="0.8" fill="#f41515"/>
<circle cx="576.83" cy="172.81" r="0.8" fill="#f41515"/>
<circle cx="574.96" cy="168.37" r="0.8" fill="#f41515"/>
<circle cx="577.82" cy="166.37" r="0.8" fill="#f41515"/>
<circle cx="578.88" cy="173.60" r="0.8" fill="#f41515"/>
<circle cx="579.00" cy="166.06" r="0.8" fill="#f41515"/>
<circle cx="583.87" cy="171.66" r="0.8" fill="#f41515"/>
<circle cx="586.77" cy="170.03" r="0.8" fill="#f41515"/>
<circle cx="585.20" cy="168.38" r="0.8" fill="#f41515"/>
<circle cx="578.31" cy="169.55" r="0.8" fill="#f41515"/>
<circle cx="577.33" cy="169.09" r="0.8" fill="#f41515"/>
<circle cx="578.99" cy="169.11" r="0.8" fill="#f41515"/>
<circle cx="579.42" cy="169.41" r="0.8" fill="#f41515"/>
<circle cx="576.57" cy="171.59" r="0.8" fill="#f41515"/>
<circle cx="585.12" cy="171.30" r="0.8" fill="#f41515"/>
<circle cx="585.68" cy="171.58" r="0.8" fill="#f41515"/>
<circle cx="576.31" cy="174.01" r="0.8" fill="#f41515"/>
<circle cx="586.31" cy="168.09" r="0.8" fill="#f41515"/>
<circle cx="574.12" cy="170.99" r="0.8" fill="#f41515"/>
<circle cx="581.53" cy="171.64" r="0.8" fill="#f41515"/>
<circle cx="581.56" cy="174.37" r="0.8" fill="#f41515"/>
<circle cx="574.99" cy="165.61" r="0.8" fill="#f41515"/>
<circle cx="575.00" cy="172.46" r="0.8" fill="#f41515"/>
<circle cx="575.84" cy="173.85" r="0.8" fill="#f41515"/>
<circle cx="583.02" cy="167.64" r="0.8" fill="#f41515"/>
<circle cx="576.93" cy="174.09" r="0.8" fill="#f41515"/>
<circle cx="581.21" cy="174.08" r="0.8" fill="#f41515"/>
<circle cx="579.40" cy="168.79" r="0.8" fill="#f41515"/>
<circle cx="580.81" cy="171.26" r="0.8" fill="#f41515"/>
<circle cx="586.79" cy="169.69" r="0.8" fill="#f41515"/>
<circle cx="587.40" cy="172.54" r="0.8" fill="#f41515"/>
<circle cx="581.24" cy="173.41" r="0.8" fill="#f41515"/>
<circle cx="585.19" cy="169.83" r="0.8" fill="#f41515"/>
<circle cx="579.77" cy="166.41" r="0.8" fill="#f41515"/>
<circle cx="579.13" cy="166.68" r="0.8" fill="#f41515"/>
<circle cx="576.70" cy="169.87" r="0.8" fill="#f41515"/>
<circle cx="577.95" cy="176.63" r="0.8" fill="#f41515"/>
<circle cx="574.64" cy="168.42" r="0.8" fill="#f41515"/>
<circle cx="575.43" cy="172.63" r="0.8" fill="#f41515"/>
<circle cx="584.82" cy="166.82" r="0.8" fill="#f41515"/>
<circle cx="574.69" cy="170.29" r="0.8" fill="#f41515"/>
<circle cx="574.32" cy="165.95" r="0.8" fill="#f41515"/>
<circle cx="576.42" cy="167.30" r="0.8" fill="#f41515"/>
<circle cx="577.14" cy="173.49" r="0.8" fill="#f41515"/>
<circle cx="582.25" cy="167.38" r="0.8" fill="#f41515"/>
<circle cx="578.40" cy="172.60" r="0.8" fill="#f41515"/>
<circle cx="580.60" cy="174.20" r="0.8" fill="#f41515"/>
<circle cx="576.70" cy="176.40" r="0.8" fill="#f41515"/>
<circle cx="574.50" cy="178.10" r="0.8" fill="#f41515"/>
<circle cx="578.90" cy="179.20" r="0.8" fill="#f41515"/>
<circle cx="573.90" cy="183.00" r="0.8" fill="#f41515"/>
<circle cx="576.70" cy="182.50" r="0.8" fill="#f41515"/>
<circle cx="585.00" cy="182.00" r="0.8" fill="#f41515"/>
<circle cx="584.40" cy="185.80" r="0.8" fill="#f41515"/>
<circle cx="578.90" cy="186.40" r="0.8" fill="#f41515"/>
<circle cx="572.30" cy="188.60" r="0.8" fill="#f41515"/>
<circle cx="573.90" cy="191.90" r="0.8" fill="#f41515"/>
<circle cx="583.90" cy="193.50" r="0.8" fill="#f41515"/>
<circle cx="596.90" cy="199.10" r="0.8" fill="#f41515"/>
<circle cx="577.80" cy="202.90" r="0.8" fill="#f41515"/>
<circle cx="597.10" cy="173.10" r="0.8" fill="#f41515"/>
<circle cx="590.60" cy="169.70" r="0.8" fill="#f41515"/>
<circle cx="595.80" cy="171.40" r="0.8" fill="#f41515"/>
<circle cx="597.50" cy="173.40" r="0.8" fill="#f41515"/>
<circle cx="605.10" cy="172.80" r="0.8" fill="#f41515"/>
<circle cx="610.90" cy="175.20" r="0.8" fill="#f41515"/>
<circle cx="585.30" cy="183.50" r="0.8" fill="#f41515"/>
<circle cx="572.60" cy="180.50" r="0.8" fill="#f41515"/>
<circle cx="577.23" cy="161.25" r="0.72" fill="#3050f0"/>
<circle cx="580.00" cy="162.72" r="0.72" fill="#3050f0"/>
<circle cx="583.72" cy="160.92" r="0.72" fill="#3050f0"/>
<circle cx="584.70" cy="162.54" r="0.72" fill="#3050f0"/>
<circle cx="573.44" cy="162.30" r="0.72" fill="#3050f0"/>
<circle cx="588.75" cy="163.03" r="0.72" fill="#3050f0"/>
<circle cx="576.63" cy="160.56" r="0.72" fill="#3050f0"/>
<circle cx="580.22" cy="161.13" r="0.72" fill="#3050f0"/>
<circle cx="579.01" cy="162.64" r="0.72" fill="#3050f0"/>
<circle cx="591.65" cy="164.22" r="0.72" fill="#3050f0"/>
<circle cx="575.00" cy="161.18" r="0.72" fill="#3050f0"/>
<circle cx="583.67" cy="162.28" r="0.72" fill="#3050f0"/>
<circle cx="585.05" cy="162.59" r="0.72" fill="#3050f0"/>
<circle cx="579.99" cy="161.41" r="0.72" fill="#3050f0"/>
<circle cx="574.86" cy="161.38" r="0.72" fill="#3050f0"/>
<circle cx="575.51" cy="161.87" r="0.72" fill="#3050f0"/>
<circle cx="591.29" cy="163.30" r="0.72" fill="#3050f0"/>
<circle cx="573.47" cy="161.77" r="0.72" fill="#3050f0"/>
<circle cx="585.50" cy="162.22" r="0.72" fill="#3050f0"/>
<circle cx="581.40" cy="162.67" r="0.72" fill="#3050f0"/>
<circle cx="579.70" cy="161.56" r="0.72" fill="#3050f0"/>
<circle cx="578.79" cy="160.80" r="0.72" fill="#3050f0"/>
<circle cx="576.27" cy="160.22" r="0.72" fill="#3050f0"/>
<circle cx="587.97" cy="163.60" r="0.72" fill="#3050f0"/>
<circle cx="577.12" cy="161.91" r="0.72" fill="#3050f0"/>
<circle cx="591.44" cy="162.96" r="0.72" fill="#3050f0"/>
<circle cx="575.16" cy="160.95" r="0.72" fill="#3050f0"/>
<circle cx="576.62" cy="160.38" r="0.72" fill="#3050f0"/>
<circle cx="582.07" cy="160.10" r="0.72" fill="#3050f0"/>
<circle cx="584.35" cy="163.26" r="0.72" fill="#3050f0"/>
<circle cx="589.92" cy="164.22" r="0.72" fill="#3050f0"/>
<circle cx="581.61" cy="161.52" r="0.72" fill="#3050f0"/>
<circle cx="594.61" cy="164.04" r="0.72" fill="#3050f0"/>
<circle cx="587.59" cy="163.05" r="0.72" fill="#3050f0"/>
<circle cx="573.60" cy="161.52" r="0.72" fill="#3050f0"/>
<circle cx="575.52" cy="161.78" r="0.72" fill="#3050f0"/>
<circle cx="591.19" cy="163.06" r="0.72" fill="#3050f0"/>
<circle cx="580.89" cy="162.45" r="0.72" fill="#3050f0"/>
<circle cx="588.80" cy="164.30" r="0.72" fill="#3050f0"/>
<circle cx="575.01" cy="161.05" r="0.72" fill="#3050f0"/>
<circle cx="585.77" cy="163.53" r="0.72" fill="#3050f0"/>
<circle cx="581.07" cy="162.25" r="0.72" fill="#3050f0"/>
<circle cx="585.05" cy="162.78" r="0.72" fill="#3050f0"/>
<circle cx="591.02" cy="163.01" r="0.72" fill="#3050f0"/>
<circle cx="578.45" cy="162.85" r="0.72" fill="#3050f0"/>
<circle cx="573.90" cy="160.69" r="0.72" fill="#3050f0"/>
<circle cx="594.72" cy="164.87" r="0.72" fill="#3050f0"/>
<circle cx="587.83" cy="163.76" r="0.72" fill="#3050f0"/>
<circle cx="581.52" cy="162.96" r="0.72" fill="#3050f0"/>
<circle cx="577.55" cy="162.27" r="0.72" fill="#3050f0"/>
<circle cx="576.32" cy="161.83" r="0.72" fill="#3050f0"/>
<circle cx="584.53" cy="161.15" r="0.72" fill="#3050f0"/>
<circle cx="585.58" cy="161.53" r="0.72" fill="#3050f0"/>
<circle cx="583.44" cy="161.96" r="0.72" fill="#3050f0"/>
<circle cx="586.80" cy="163.49" r="0.72" fill="#3050f0"/>
<circle cx="589.73" cy="163.83" r="0.72" fill="#3050f0"/>
<circle cx="591.47" cy="164.40" r="0.72" fill="#3050f0"/>
<circle cx="582.12" cy="162.09" r="0.72" fill="#3050f0"/>
<circle cx="584.67" cy="162.59" r="0.72" fill="#3050f0"/>
<circle cx="580.19" cy="160.00" r="0.72" fill="#3050f0"/>
<circle cx="589.02" cy="164.65" r="0.72" fill="#3050f0"/>
<circle cx="589.16" cy="162.99" r="0.72" fill="#3050f0"/>
<circle cx="575.91" cy="162.16" r="0.72" fill="#3050f0"/>
<circle cx="584.16" cy="161.88" r="0.72" fill="#3050f0"/>
<circle cx="584.67" cy="161.02" r="0.72" fill="#3050f0"/>
<circle cx="579.88" cy="161.88" r="0.72" fill="#3050f0"/>
<circle cx="578.34" cy="160.08" r="0.72" fill="#3050f0"/>
<circle cx="587.71" cy="164.47" r="0.72" fill="#3050f0"/>
<circle cx="575.90" cy="162.66" r="0.72" fill="#3050f0"/>
<circle cx="578.52" cy="161.35" r="0.72" fill="#3050f0"/>
<circle cx="580.28" cy="160.04" r="0.72" fill="#3050f0"/>
<circle cx="592.71" cy="164.18" r="0.72" fill="#3050f0"/>
<circle cx="581.86" cy="161.66" r="0.72" fill="#3050f0"/>
<circle cx="579.91" cy="162.44" r="0.72" fill="#3050f0"/>
<circle cx="583.50" cy="160.84" r="0.72" fill="#3050f0"/>
<circle cx="583.50" cy="160.65" r="0.72" fill="#3050f0"/>
<circle cx="574.29" cy="160.28" r="0.72" fill="#3050f0"/>
<circle cx="592.83" cy="164.48" r="0.72" fill="#3050f0"/>
<circle cx="588.37" cy="164.86" r="0.72" fill="#3050f0"/>
<circle cx="582.90" cy="160.13" r="0.72" fill="#3050f0"/>
<circle cx="578.07" cy="161.39" r="0.72" fill="#3050f0"/>
<circle cx="577.15" cy="160.99" r="0.72" fill="#3050f0"/>
<circle cx="587.69" cy="164.05" r="0.72" fill="#3050f0"/>
<circle cx="592.48" cy="162.94" r="0.72" fill="#3050f0"/>
<circle cx="578.19" cy="161.36" r="0.72" fill="#3050f0"/>
<circle cx="593.40" cy="163.37" r="0.72" fill="#3050f0"/>
<circle cx="582.80" cy="162.61" r="0.72" fill="#3050f0"/>
<circle cx="575.10" cy="161.27" r="0.72" fill="#3050f0"/>
<circle cx="579.28" cy="162.71" r="0.72" fill="#3050f0"/>
<circle cx="584.10" cy="160.69" r="0.72" fill="#3050f0"/>
<circle cx="585.32" cy="163.25" r="0.72" fill="#3050f0"/>
<circle cx="590.27" cy="162.54" r="0.72" fill="#3050f0"/>
<circle cx="588.12" cy="162.56" r="0.72" fill="#3050f0"/>
<circle cx="590.35" cy="164.05" r="0.72" fill="#3050f0"/>
<circle cx="578.34" cy="162.39" r="0.72" fill="#3050f0"/>
<circle cx="578.02" cy="162.89" r="0.72" fill="#3050f0"/>
<circle cx="586.21" cy="163.63" r="0.72" fill="#3050f0"/>
<circle cx="577.12" cy="160.53" r="0.72" fill="#3050f0"/>
<circle cx="573.59" cy="162.43" r="0.72" fill="#3050f0"/>
<circle cx="582.68" cy="162.13" r="0.72" fill="#3050f0"/>
<circle cx="585.60" cy="162.69" r="0.72" fill="#3050f0"/>
<circle cx="576.39" cy="161.41" r="0.72" fill="#3050f0"/>
<circle cx="574.12" cy="161.43" r="0.72" fill="#3050f0"/>
<circle cx="586.74" cy="162.59" r="0.72" fill="#3050f0"/>
<circle cx="578.97" cy="162.94" r="0.72" fill="#3050f0"/>
<circle cx="576.94" cy="161.10" r="0.72" fill="#3050f0"/>
<circle cx="591.31" cy="164.03" r="0.72" fill="#3050f0"/>
<circle cx="574.53" cy="161.96" r="0.72" fill="#3050f0"/>
<circle cx="581.14" cy="160.89" r="0.72" fill="#3050f0"/>
<circle cx="574.06" cy="161.02" r="0.72" fill="#3050f0"/>
<circle cx="581.77" cy="161.34" r="0.72" fill="#3050f0"/>
<circle cx="582.45" cy="160.12" r="0.72" fill="#3050f0"/>
<circle cx="589.84" cy="163.74" r="0.72" fill="#3050f0"/>
<circle cx="578.21" cy="161.09" r="0.72" fill="#3050f0"/>
<circle cx="581.14" cy="161.55" r="0.72" fill="#3050f0"/>
<circle cx="587.98" cy="168.86" r="0.78" fill="#050505"/>
<circle cx="594.68" cy="170.78" r="0.78" fill="#050505"/>
<circle cx="606.20" cy="170.10" r="0.78" fill="#050505"/>
<circle cx="595.52" cy="171.36" r="0.78" fill="#050505"/>
<circle cx="591.86" cy="168.49" r="0.78" fill="#050505"/>
<circle cx="591.16" cy="169.83" r="0.78" fill="#050505"/>
<circle cx="590.72" cy="167.54" r="0.78" fill="#050505"/>
<circle cx="591.84" cy="169.29" r="0.78" fill="#050505"/>
<circle cx="593.92" cy="169.15" r="0.78" fill="#050505"/>
<circle cx="595.56" cy="166.68" r="0.78" fill="#050505"/>
<circle cx="591.12" cy="167.93" r="0.78" fill="#050505"/>
<circle cx="595.08" cy="167.21" r="0.78" fill="#050505"/>
<circle cx="604.02" cy="170.97" r="0.78" fill="#050505"/>
<circle cx="594.22" cy="168.74" r="0.78" fill="#050505"/>
<circle cx="588.94" cy="172.02" r="0.78" fill="#050505"/>
<circle cx="594.29" cy="171.29" r="0.78" fill="#050505"/>
<circle cx="595.81" cy="167.77" r="0.78" fill="#050505"/>
<circle cx="588.00" cy="167.20" r="0.78" fill="#050505"/>
<circle cx="594.00" cy="169.00" r="0.78" fill="#050505"/>
<circle cx="603.13" cy="170.60" r="0.78" fill="#050505"/>
<circle cx="590.35" cy="167.55" r="0.78" fill="#050505"/>
<circle cx="593.30" cy="170.90" r="0.78" fill="#050505"/>
<circle cx="596.06" cy="168.75" r="0.78" fill="#050505"/>
<circle cx="593.55" cy="168.48" r="0.78" fill="#050505"/>
<circle cx="587.64" cy="170.36" r="0.78" fill="#050505"/>
<circle cx="599.61" cy="171.54" r="0.78" fill="#050505"/>
<circle cx="591.88" cy="170.75" r="0.78" fill="#050505"/>
<circle cx="596.55" cy="168.79" r="0.78" fill="#050505"/>
<circle cx="588.43" cy="168.73" r="0.78" fill="#050505"/>
<circle cx="594.35" cy="169.48" r="0.78" fill="#050505"/>
<circle cx="593.28" cy="167.25" r="0.78" fill="#050505"/>
<circle cx="595.99" cy="169.34" r="0.78" fill="#050505"/>
<circle cx="590.78" cy="170.59" r="0.78" fill="#050505"/>
<circle cx="592.40" cy="166.81" r="0.78" fill="#050505"/>
<circle cx="594.65" cy="168.99" r="0.78" fill="#050505"/>
<circle cx="590.43" cy="170.05" r="0.78" fill="#050505"/>
<circle cx="602.60" cy="169.85" r="0.78" fill="#050505"/>
<circle cx="595.75" cy="168.60" r="0.78" fill="#050505"/>
<circle cx="588.49" cy="168.87" r="0.78" fill="#050505"/>
<circle cx="588.31" cy="169.47" r="0.78" fill="#050505"/>
<circle cx="600.05" cy="169.29" r="0.78" fill="#050505"/>
<circle cx="594.29" cy="167.87" r="0.78" fill="#050505"/>
<circle cx="587.62" cy="168.49" r="0.78" fill="#050505"/>
<circle cx="606.81" cy="169.93" r="0.78" fill="#050505"/>
<circle cx="592.89" cy="170.61" r="0.78" fill="#050505"/>
<circle cx="591.21" cy="169.30" r="0.78" fill="#050505"/>
<circle cx="595.11" cy="170.00" r="0.78" fill="#050505"/>
<circle cx="607.93" cy="171.29" r="0.78" fill="#050505"/>
<circle cx="600.96" cy="170.30" r="0.78" fill="#050505"/>
<circle cx="596.18" cy="168.94" r="0.78" fill="#050505"/>
<circle cx="593.20" cy="171.68" r="0.78" fill="#050505"/>
<circle cx="590.10" cy="169.55" r="0.78" fill="#050505"/>
<circle cx="593.92" cy="168.58" r="0.78" fill="#050505"/>
<circle cx="591.35" cy="167.71" r="0.78" fill="#050505"/>
<circle cx="595.81" cy="167.78" r="0.78" fill="#050505"/>
<circle cx="598.01" cy="170.49" r="0.78" fill="#050505"/>
<circle cx="599.21" cy="170.32" r="0.78" fill="#050505"/>
<circle cx="594.76" cy="172.05" r="0.78" fill="#050505"/>
<circle cx="594.03" cy="170.93" r="0.78" fill="#050505"/>
<circle cx="602.47" cy="170.73" r="0.78" fill="#050505"/>
<circle cx="590.62" cy="170.30" r="0.78" fill="#050505"/>
<circle cx="597.94" cy="169.92" r="0.78" fill="#050505"/>
<circle cx="595.27" cy="168.09" r="0.78" fill="#050505"/>
<circle cx="603.65" cy="169.72" r="0.78" fill="#050505"/>
<circle cx="592.34" cy="167.85" r="0.78" fill="#050505"/>
<circle cx="594.28" cy="167.37" r="0.78" fill="#050505"/>
<circle cx="598.45" cy="167.03" r="0.78" fill="#050505"/>
<circle cx="588.50" cy="166.65" r="0.78" fill="#050505"/>
<circle cx="589.36" cy="170.85" r="0.78" fill="#050505"/>
<circle cx="589.59" cy="169.18" r="0.78" fill="#050505"/>
<circle cx="590.69" cy="171.92" r="0.78" fill="#050505"/>
<circle cx="592.71" cy="169.55" r="0.78" fill="#050505"/>
<circle cx="594.48" cy="171.21" r="0.78" fill="#050505"/>
<circle cx="605.72" cy="171.67" r="0.78" fill="#050505"/>
<circle cx="599.64" cy="168.98" r="0.78" fill="#050505"/>
<circle cx="602.72" cy="170.31" r="0.78" fill="#050505"/>
<circle cx="605.47" cy="171.49" r="0.78" fill="#050505"/>
<circle cx="589.87" cy="168.69" r="0.78" fill="#050505"/>
<circle cx="601.06" cy="168.82" r="0.78" fill="#050505"/>
<circle cx="588.18" cy="170.91" r="0.78" fill="#050505"/>
<circle cx="593.42" cy="171.03" r="0.78" fill="#050505"/>
<circle cx="599.09" cy="169.39" r="0.78" fill="#050505"/>
<circle cx="595.35" cy="168.24" r="0.78" fill="#050505"/>
<circle cx="604.79" cy="171.74" r="0.78" fill="#050505"/>
<circle cx="593.37" cy="168.79" r="0.78" fill="#050505"/>
<circle cx="600.75" cy="171.25" r="0.78" fill="#050505"/>
<circle cx="602.44" cy="169.80" r="0.78" fill="#050505"/>
<circle cx="590.97" cy="166.91" r="0.78" fill="#050505"/>
<circle cx="597.89" cy="166.99" r="0.78" fill="#050505"/>
<circle cx="592.13" cy="169.38" r="0.78" fill="#050505"/>
<circle cx="595.19" cy="167.91" r="0.78" fill="#050505"/>
<circle cx="588.23" cy="166.62" r="0.78" fill="#050505"/>
<circle cx="588.83" cy="167.40" r="0.78" fill="#050505"/>
<circle cx="591.57" cy="171.92" r="0.78" fill="#050505"/>
<circle cx="597.80" cy="168.94" r="0.78" fill="#050505"/>
<circle cx="588.37" cy="169.83" r="0.78" fill="#050505"/>
<circle cx="601.62" cy="170.31" r="0.78" fill="#050505"/>
<circle cx="593.22" cy="172.40" r="0.78" fill="#050505"/>
<circle cx="587.69" cy="167.31" r="0.78" fill="#050505"/>
<circle cx="589.72" cy="166.69" r="0.78" fill="#050505"/>
<circle cx="595.03" cy="171.17" r="0.78" fill="#050505"/>
<circle cx="593.95" cy="169.59" r="0.78" fill="#050505"/>
<circle cx="604.61" cy="171.05" r="0.78" fill="#050505"/>
<circle cx="605.39" cy="171.27" r="0.78" fill="#050505"/>
<circle cx="595.68" cy="168.64" r="0.78" fill="#050505"/>
<circle cx="601.62" cy="171.55" r="0.78" fill="#050505"/>
<circle cx="595.16" cy="170.41" r="0.78" fill="#050505"/>
<circle cx="594.92" cy="168.04" r="0.78" fill="#050505"/>
<circle cx="589.18" cy="168.41" r="0.78" fill="#050505"/>
<circle cx="603.52" cy="169.81" r="0.78" fill="#050505"/>
<circle cx="589.44" cy="167.14" r="0.78" fill="#050505"/>
<circle cx="594.84" cy="169.04" r="0.78" fill="#050505"/>
<circle cx="587.31" cy="169.52" r="0.78" fill="#050505"/>
<circle cx="596.01" cy="168.32" r="0.78" fill="#050505"/>
<circle cx="591.62" cy="172.01" r="0.78" fill="#050505"/>
<circle cx="594.19" cy="171.18" r="0.78" fill="#050505"/>
<circle cx="591.95" cy="168.89" r="0.78" fill="#050505"/>
<circle cx="593.14" cy="170.67" r="0.78" fill="#050505"/>
<circle cx="591.15" cy="168.56" r="0.78" fill="#050505"/>
<circle cx="606.03" cy="170.35" r="0.78" fill="#050505"/>
<circle cx="598.26" cy="169.95" r="0.78" fill="#050505"/>
<circle cx="589.62" cy="171.73" r="0.78" fill="#050505"/>
<circle cx="595.60" cy="167.72" r="0.78" fill="#050505"/>
<circle cx="600.37" cy="169.98" r="0.78" fill="#050505"/>
<circle cx="600.96" cy="169.15" r="0.78" fill="#050505"/>
<circle cx="600.21" cy="170.12" r="0.78" fill="#050505"/>
<circle cx="589.90" cy="172.73" r="0.78" fill="#050505"/>
<circle cx="597.95" cy="167.75" r="0.78" fill="#050505"/>
<circle cx="605.67" cy="170.48" r="0.78" fill="#050505"/>
<circle cx="607.82" cy="171.67" r="0.78" fill="#050505"/>
<circle cx="604.73" cy="169.58" r="0.78" fill="#050505"/>
<circle cx="606.33" cy="170.90" r="0.78" fill="#050505"/>
<circle cx="592.64" cy="171.53" r="0.78" fill="#050505"/>
<circle cx="597.13" cy="169.74" r="0.78" fill="#050505"/>
<circle cx="593.28" cy="170.45" r="0.78" fill="#050505"/>
<circle cx="588.73" cy="169.86" r="0.78" fill="#050505"/>
<circle cx="592.44" cy="171.48" r="0.78" fill="#050505"/>
<circle cx="606.00" cy="171.29" r="0.78" fill="#050505"/>
<circle cx="595.19" cy="166.86" r="0.78" fill="#050505"/>
<circle cx="587.91" cy="168.48" r="0.78" fill="#050505"/>
<circle cx="606.21" cy="171.70" r="0.78" fill="#050505"/>
<circle cx="589.69" cy="167.40" r="0.78" fill="#050505"/>
<circle cx="591.67" cy="170.35" r="0.78" fill="#050505"/>
<circle cx="606.47" cy="171.00" r="0.78" fill="#050505"/>
<circle cx="591.46" cy="170.61" r="0.78" fill="#050505"/>
<circle cx="596.62" cy="166.30" r="0.78" fill="#050505"/>
<circle cx="594.60" cy="168.28" r="0.78" fill="#050505"/>
<circle cx="600.43" cy="170.79" r="0.78" fill="#050505"/>
<circle cx="591.09" cy="167.04" r="0.78" fill="#050505"/>
<circle cx="589.95" cy="166.97" r="0.78" fill="#050505"/>
<circle cx="607.90" cy="170.23" r="0.78" fill="#050505"/>
<circle cx="595.00" cy="167.49" r="0.78" fill="#050505"/>
<circle cx="593.96" cy="168.89" r="0.78" fill="#050505"/>
<circle cx="590.33" cy="170.37" r="0.78" fill="#050505"/>
<circle cx="596.14" cy="169.21" r="0.78" fill="#050505"/>
<circle cx="594.75" cy="170.84" r="0.78" fill="#050505"/>
<circle cx="592.29" cy="170.02" r="0.78" fill="#050505"/>
<circle cx="593.40" cy="171.96" r="0.78" fill="#050505"/>
<circle cx="593.43" cy="171.84" r="0.78" fill="#050505"/>
<circle cx="603.53" cy="170.17" r="0.78" fill="#050505"/>
<circle cx="597.01" cy="166.62" r="0.78" fill="#050505"/>
<circle cx="596.36" cy="168.06" r="0.78" fill="#050505"/>
<circle cx="593.57" cy="170.79" r="0.78" fill="#050505"/>
<circle cx="596.19" cy="167.07" r="0.78" fill="#050505"/>
<circle cx="596.40" cy="168.45" r="0.78" fill="#050505"/>
<circle cx="605.23" cy="171.81" r="0.78" fill="#050505"/>
<circle cx="600.15" cy="169.80" r="0.78" fill="#050505"/>
<circle cx="589.30" cy="172.12" r="0.78" fill="#050505"/>
<circle cx="589.05" cy="168.60" r="0.78" fill="#050505"/>
<circle cx="595.38" cy="170.97" r="0.78" fill="#050505"/>
<circle cx="587.61" cy="170.38" r="0.78" fill="#050505"/>
<circle cx="597.47" cy="168.59" r="0.78" fill="#050505"/>
<circle cx="597.37" cy="168.29" r="0.78" fill="#050505"/>
<circle cx="601.93" cy="170.20" r="0.78" fill="#050505"/>
<circle cx="605.41" cy="170.49" r="0.78" fill="#050505"/>
<circle cx="588.57" cy="169.25" r="0.78" fill="#050505"/>
<circle cx="595.97" cy="170.53" r="0.78" fill="#050505"/>
<circle cx="591.92" cy="172.73" r="0.78" fill="#050505"/>
<circle cx="591.73" cy="168.64" r="0.78" fill="#050505"/>
<circle cx="590.26" cy="168.80" r="0.78" fill="#050505"/>
<circle cx="590.79" cy="170.48" r="0.78" fill="#050505"/>
<circle cx="600.87" cy="171.10" r="0.78" fill="#050505"/>
<circle cx="592.70" cy="171.55" r="0.78" fill="#050505"/>
<circle cx="603.25" cy="171.32" r="0.78" fill="#050505"/>
<circle cx="589.75" cy="169.29" r="0.78" fill="#050505"/>
<circle cx="587.63" cy="168.52" r="0.78" fill="#050505"/>
<circle cx="598.94" cy="169.72" r="0.78" fill="#050505"/>
<circle cx="589.56" cy="171.41" r="0.78" fill="#050505"/>
<circle cx="593.76" cy="169.55" r="0.78" fill="#050505"/>
<circle cx="589.85" cy="169.95" r="0.78" fill="#050505"/>
<circle cx="589.97" cy="166.78" r="0.78" fill="#050505"/>
<circle cx="598.42" cy="168.14" r="0.78" fill="#050505"/>
<circle cx="596.25" cy="166.56" r="0.78" fill="#050505"/>
<circle cx="591.91" cy="169.18" r="0.78" fill="#050505"/>
<circle cx="599.43" cy="169.23" r="0.78" fill="#050505"/>
<circle cx="596.08" cy="170.24" r="0.78" fill="#050505"/>
<circle cx="596.24" cy="166.27" r="0.78" fill="#050505"/>
<circle cx="590.50" cy="171.60" r="0.78" fill="#050505"/>
<circle cx="603.33" cy="170.90" r="0.78" fill="#050505"/>
<circle cx="590.56" cy="169.71" r="0.78" fill="#050505"/>
<circle cx="587.10" cy="174.50" r="0.7" fill="#050505"/>
<circle cx="590.60" cy="169.70" r="0.8" fill="#f41515"/>
<circle cx="595.80" cy="171.40" r="0.8" fill="#f41515"/>
<circle cx="623.25" cy="173.71" r="0.62" fill="#b8b8b8"/>
<circle cx="624.04" cy="174.53" r="0.62" fill="#b8b8b8"/>
<circle cx="627.99" cy="175.79" r="0.62" fill="#b8b8b8"/>
<circle cx="629.03" cy="174.75" r="0.62" fill="#b8b8b8"/>
<circle cx="628.61" cy="175.46" r="0.62" fill="#b8b8b8"/>
<circle cx="630.33" cy="175.07" r="0.62" fill="#b8b8b8"/>
<circle cx="629.60" cy="175.58" r="0.62" fill="#b8b8b8"/>
<circle cx="631.45" cy="175.30" r="0.62" fill="#b8b8b8"/>
<circle cx="628.68" cy="174.83" r="0.62" fill="#b8b8b8"/>
<circle cx="628.63" cy="174.76" r="0.62" fill="#b8b8b8"/>
<circle cx="632.43" cy="176.34" r="0.62" fill="#b8b8b8"/>
<circle cx="627.78" cy="175.84" r="0.62" fill="#b8b8b8"/>
<circle cx="623.64" cy="173.61" r="0.62" fill="#b8b8b8"/>
<circle cx="626.78" cy="174.59" r="0.62" fill="#b8b8b8"/>
<circle cx="635.26" cy="176.63" r="0.62" fill="#b8b8b8"/>
<circle cx="637.56" cy="177.24" r="0.62" fill="#b8b8b8"/>
<circle cx="629.87" cy="175.50" r="0.62" fill="#b8b8b8"/>
<circle cx="624.66" cy="174.86" r="0.62" fill="#b8b8b8"/>
<circle cx="633.33" cy="176.11" r="0.62" fill="#b8b8b8"/>
<circle cx="624.59" cy="173.75" r="0.62" fill="#b8b8b8"/>
<circle cx="626.14" cy="175.38" r="0.62" fill="#b8b8b8"/>
<circle cx="629.62" cy="175.18" r="0.62" fill="#b8b8b8"/>
<circle cx="625.99" cy="175.00" r="0.62" fill="#b8b8b8"/>
<circle cx="625.39" cy="175.02" r="0.62" fill="#b8b8b8"/>
<circle cx="632.14" cy="175.96" r="0.62" fill="#b8b8b8"/>
<circle cx="628.94" cy="176.26" r="0.62" fill="#b8b8b8"/>
<circle cx="632.02" cy="175.74" r="0.62" fill="#b8b8b8"/>
<circle cx="631.78" cy="176.13" r="0.62" fill="#b8b8b8"/>
<circle cx="637.82" cy="177.31" r="0.62" fill="#b8b8b8"/>
<circle cx="634.89" cy="176.30" r="0.62" fill="#b8b8b8"/>
<circle cx="637.01" cy="178.18" r="0.62" fill="#b8b8b8"/>
<circle cx="637.83" cy="177.05" r="0.62" fill="#b8b8b8"/>
<circle cx="627.43" cy="174.49" r="0.62" fill="#b8b8b8"/>
<circle cx="627.11" cy="174.67" r="0.62" fill="#b8b8b8"/>
<circle cx="636.38" cy="177.80" r="0.62" fill="#b8b8b8"/>
<circle cx="632.43" cy="176.09" r="0.62" fill="#b8b8b8"/>
<circle cx="634.40" cy="176.04" r="0.62" fill="#b8b8b8"/>
<circle cx="626.49" cy="175.59" r="0.62" fill="#b8b8b8"/>
<circle cx="636.31" cy="177.42" r="0.62" fill="#b8b8b8"/>
<circle cx="631.12" cy="175.05" r="0.62" fill="#b8b8b8"/>
<circle cx="674.19" cy="184.72" r="0.68" fill="#b8b8b8"/>
<circle cx="669.31" cy="185.70" r="0.68" fill="#b8b8b8"/>
<circle cx="661.42" cy="183.90" r="0.68" fill="#b8b8b8"/>
<circle cx="679.43" cy="188.63" r="0.68" fill="#b8b8b8"/>
<circle cx="679.68" cy="188.28" r="0.68" fill="#b8b8b8"/>
<circle cx="677.63" cy="188.34" r="0.68" fill="#b8b8b8"/>
<circle cx="671.63" cy="186.60" r="0.68" fill="#b8b8b8"/>
<circle cx="672.13" cy="186.09" r="0.68" fill="#b8b8b8"/>
<circle cx="659.11" cy="182.58" r="0.68" fill="#b8b8b8"/>
<circle cx="677.87" cy="188.50" r="0.68" fill="#b8b8b8"/>
<circle cx="658.94" cy="182.02" r="0.68" fill="#b8b8b8"/>
<circle cx="676.99" cy="186.62" r="0.68" fill="#b8b8b8"/>
<circle cx="670.04" cy="185.86" r="0.68" fill="#b8b8b8"/>
<circle cx="675.37" cy="187.45" r="0.68" fill="#b8b8b8"/>
<circle cx="665.92" cy="184.23" r="0.68" fill="#b8b8b8"/>
<circle cx="670.18" cy="184.15" r="0.68" fill="#b8b8b8"/>
<circle cx="673.52" cy="184.98" r="0.68" fill="#b8b8b8"/>
<circle cx="662.34" cy="182.85" r="0.68" fill="#b8b8b8"/>
<circle cx="662.53" cy="183.43" r="0.68" fill="#b8b8b8"/>
<circle cx="665.15" cy="184.11" r="0.68" fill="#b8b8b8"/>
<circle cx="674.67" cy="186.52" r="0.68" fill="#b8b8b8"/>
<circle cx="676.10" cy="185.58" r="0.68" fill="#b8b8b8"/>
<circle cx="663.88" cy="183.32" r="0.68" fill="#b8b8b8"/>
<circle cx="666.70" cy="184.30" r="0.68" fill="#b8b8b8"/>
<circle cx="676.09" cy="187.28" r="0.68" fill="#b8b8b8"/>
<circle cx="666.90" cy="183.81" r="0.68" fill="#b8b8b8"/>
<circle cx="671.69" cy="186.99" r="0.68" fill="#b8b8b8"/>
<circle cx="679.91" cy="188.32" r="0.68" fill="#b8b8b8"/>
<circle cx="678.17" cy="186.89" r="0.68" fill="#b8b8b8"/>
<circle cx="660.01" cy="183.09" r="0.68" fill="#b8b8b8"/>
<circle cx="665.28" cy="183.08" r="0.68" fill="#b8b8b8"/>
<circle cx="670.50" cy="185.77" r="0.68" fill="#b8b8b8"/>
<circle cx="675.47" cy="185.49" r="0.68" fill="#b8b8b8"/>
<circle cx="663.39" cy="182.34" r="0.68" fill="#b8b8b8"/>
<circle cx="661.99" cy="184.11" r="0.68" fill="#b8b8b8"/>
<circle cx="671.13" cy="183.86" r="0.68" fill="#b8b8b8"/>
<circle cx="668.70" cy="186.02" r="0.68" fill="#b8b8b8"/>
<circle cx="659.56" cy="182.94" r="0.68" fill="#b8b8b8"/>
<circle cx="669.58" cy="186.37" r="0.68" fill="#b8b8b8"/>
<circle cx="659.33" cy="183.62" r="0.68" fill="#b8b8b8"/>
<circle cx="672.26" cy="184.39" r="0.68" fill="#b8b8b8"/>
<circle cx="668.99" cy="186.17" r="0.68" fill="#b8b8b8"/>
<circle cx="665.50" cy="184.30" r="0.68" fill="#b8b8b8"/>
<circle cx="667.74" cy="185.58" r="0.68" fill="#b8b8b8"/>
<circle cx="668.71" cy="184.13" r="0.68" fill="#b8b8b8"/>
<circle cx="679.36" cy="187.77" r="0.68" fill="#b8b8b8"/>
<circle cx="664.87" cy="183.00" r="0.68" fill="#b8b8b8"/>
<circle cx="669.92" cy="184.45" r="0.68" fill="#b8b8b8"/>
<circle cx="672.55" cy="185.04" r="0.68" fill="#b8b8b8"/>
<circle cx="669.19" cy="186.29" r="0.68" fill="#b8b8b8"/>
<circle cx="676.97" cy="187.39" r="0.68" fill="#b8b8b8"/>
<circle cx="669.69" cy="184.78" r="0.68" fill="#b8b8b8"/>
<circle cx="669.37" cy="185.18" r="0.68" fill="#b8b8b8"/>
<circle cx="669.67" cy="184.20" r="0.68" fill="#b8b8b8"/>
<circle cx="662.80" cy="183.31" r="0.68" fill="#b8b8b8"/>
<circle cx="677.08" cy="187.42" r="0.68" fill="#b8b8b8"/>
<circle cx="680.32" cy="188.22" r="0.68" fill="#b8b8b8"/>
<circle cx="673.75" cy="187.38" r="0.68" fill="#b8b8b8"/>
<circle cx="674.34" cy="187.47" r="0.68" fill="#b8b8b8"/>
<circle cx="677.84" cy="187.18" r="0.68" fill="#b8b8b8"/>
<circle cx="675.99" cy="187.92" r="0.68" fill="#b8b8b8"/>
<circle cx="672.72" cy="185.24" r="0.68" fill="#b8b8b8"/>
<circle cx="667.01" cy="184.27" r="0.68" fill="#b8b8b8"/>
<circle cx="658.91" cy="182.93" r="0.68" fill="#b8b8b8"/>
<circle cx="673.04" cy="187.23" r="0.68" fill="#b8b8b8"/>
<circle cx="673.96" cy="185.41" r="0.68" fill="#b8b8b8"/>
<circle cx="665.48" cy="183.71" r="0.68" fill="#b8b8b8"/>
<circle cx="679.96" cy="187.22" r="0.68" fill="#b8b8b8"/>
<circle cx="665.87" cy="183.76" r="0.68" fill="#b8b8b8"/>
<circle cx="670.11" cy="185.21" r="0.68" fill="#b8b8b8"/>
<circle cx="670.39" cy="185.11" r="0.68" fill="#b8b8b8"/>
<circle cx="663.81" cy="184.09" r="0.68" fill="#b8b8b8"/>
<circle cx="659.97" cy="182.17" r="0.68" fill="#b8b8b8"/>
<circle cx="666.36" cy="185.49" r="0.68" fill="#b8b8b8"/>
<circle cx="667.68" cy="184.65" r="0.68" fill="#b8b8b8"/>
<circle cx="675.48" cy="185.69" r="0.68" fill="#b8b8b8"/>
<circle cx="675.58" cy="186.33" r="0.68" fill="#b8b8b8"/>
<circle cx="674.21" cy="185.00" r="0.68" fill="#b8b8b8"/>
<circle cx="659.99" cy="183.69" r="0.68" fill="#b8b8b8"/>
<circle cx="673.96" cy="184.86" r="0.68" fill="#b8b8b8"/>
<circle cx="671.24" cy="187.01" r="0.68" fill="#b8b8b8"/>
<circle cx="673.66" cy="186.11" r="0.68" fill="#b8b8b8"/>
<circle cx="661.28" cy="182.18" r="0.68" fill="#b8b8b8"/>
<circle cx="679.76" cy="187.76" r="0.68" fill="#b8b8b8"/>
<circle cx="669.30" cy="185.91" r="0.68" fill="#b8b8b8"/>
<circle cx="661.09" cy="183.93" r="0.68" fill="#b8b8b8"/>
<circle cx="669.80" cy="184.67" r="0.68" fill="#b8b8b8"/>
<circle cx="674.26" cy="184.94" r="0.68" fill="#b8b8b8"/>
<circle cx="666.59" cy="184.86" r="0.68" fill="#b8b8b8"/>
<circle cx="668.55" cy="184.01" r="0.68" fill="#b8b8b8"/>
<circle cx="659.50" cy="186.50" r="0.6" fill="#b8b8b8"/>
<circle cx="661.50" cy="187.00" r="0.6" fill="#b8b8b8"/>
<circle cx="664.00" cy="186.40" r="0.6" fill="#b8b8b8"/>
<circle cx="639.30" cy="178.00" r="0.6" fill="#3b8b27"/>
<circle cx="642.80" cy="175.90" r="0.6" fill="#3b8b27"/>
<circle cx="642.80" cy="176.90" r="0.6" fill="#3b8b27"/>
<circle cx="642.90" cy="177.80" r="0.6" fill="#3b8b27"/>
<circle cx="652.00" cy="180.10" r="0.6" fill="#3b8b27"/>
<circle cx="653.20" cy="179.30" r="0.6" fill="#3b8b27"/>
<circle cx="655.50" cy="179.00" r="0.6" fill="#3b8b27"/>
<circle cx="656.50" cy="180.20" r="0.6" fill="#3b8b27"/>
<circle cx="659.30" cy="178.30" r="0.6" fill="#3b8b27"/>
<circle cx="659.60" cy="179.60" r="0.6" fill="#3b8b27"/>
<circle cx="660.00" cy="180.90" r="0.6" fill="#3b8b27"/>
<circle cx="669.36" cy="179.23" r="0.65" fill="#3b8b27"/>
<circle cx="665.33" cy="180.32" r="0.65" fill="#3b8b27"/>
<circle cx="667.23" cy="179.42" r="0.65" fill="#3b8b27"/>
<circle cx="672.58" cy="179.36" r="0.65" fill="#3b8b27"/>
<circle cx="666.24" cy="180.69" r="0.65" fill="#3b8b27"/>
<circle cx="673.80" cy="180.36" r="0.65" fill="#3b8b27"/>
<circle cx="666.56" cy="180.01" r="0.65" fill="#3b8b27"/>
<circle cx="670.84" cy="178.89" r="0.65" fill="#3b8b27"/>
<circle cx="670.62" cy="180.85" r="0.65" fill="#3b8b27"/>
<circle cx="669.76" cy="180.01" r="0.65" fill="#3b8b27"/>
<circle cx="666.98" cy="179.96" r="0.65" fill="#3b8b27"/>
<circle cx="664.35" cy="180.31" r="0.65" fill="#3b8b27"/>
<circle cx="668.29" cy="180.94" r="0.65" fill="#3b8b27"/>
<circle cx="665.81" cy="180.14" r="0.65" fill="#3b8b27"/>
<circle cx="661.71" cy="179.25" r="0.65" fill="#3b8b27"/>
<circle cx="671.16" cy="178.78" r="0.65" fill="#3b8b27"/>
<circle cx="669.23" cy="178.66" r="0.65" fill="#3b8b27"/>
<circle cx="666.52" cy="180.98" r="0.65" fill="#3b8b27"/>
<circle cx="663.98" cy="180.74" r="0.65" fill="#3b8b27"/>
<circle cx="662.25" cy="179.75" r="0.65" fill="#3b8b27"/>
<circle cx="671.85" cy="180.51" r="0.65" fill="#3b8b27"/>
<circle cx="666.43" cy="179.77" r="0.65" fill="#3b8b27"/>
<circle cx="670.47" cy="180.29" r="0.65" fill="#3b8b27"/>
<circle cx="670.91" cy="179.74" r="0.65" fill="#3b8b27"/>
<circle cx="664.67" cy="180.12" r="0.65" fill="#3b8b27"/>
<circle cx="668.57" cy="179.63" r="0.65" fill="#3b8b27"/>
<circle cx="671.34" cy="178.97" r="0.65" fill="#3b8b27"/>
<circle cx="670.65" cy="180.85" r="0.65" fill="#3b8b27"/>
<circle cx="664.96" cy="179.70" r="0.65" fill="#3b8b27"/>
<circle cx="668.16" cy="179.49" r="0.65" fill="#3b8b27"/>
<circle cx="663.60" cy="179.88" r="0.65" fill="#3b8b27"/>
<circle cx="672.76" cy="179.99" r="0.65" fill="#3b8b27"/>
<circle cx="665.14" cy="180.42" r="0.65" fill="#3b8b27"/>
<circle cx="666.79" cy="178.44" r="0.65" fill="#3b8b27"/>
<circle cx="669.13" cy="179.38" r="0.65" fill="#3b8b27"/>
<circle cx="668.18" cy="180.97" r="0.65" fill="#3b8b27"/>
<circle cx="668.68" cy="180.86" r="0.65" fill="#3b8b27"/>
<circle cx="665.94" cy="180.28" r="0.65" fill="#3b8b27"/>
<circle cx="662.45" cy="178.90" r="0.65" fill="#3b8b27"/>
<circle cx="670.22" cy="180.07" r="0.65" fill="#3b8b27"/>
<circle cx="671.94" cy="179.14" r="0.65" fill="#3b8b27"/>
<circle cx="664.95" cy="179.08" r="0.65" fill="#3b8b27"/>
<circle cx="666.22" cy="179.97" r="0.65" fill="#3b8b27"/>
<circle cx="663.37" cy="178.93" r="0.65" fill="#3b8b27"/>
<circle cx="672.50" cy="180.80" r="0.65" fill="#3b8b27"/>
<circle cx="664.65" cy="178.53" r="0.65" fill="#3b8b27"/>
<circle cx="662.98" cy="178.26" r="0.65" fill="#3b8b27"/>
<circle cx="671.51" cy="180.22" r="0.65" fill="#3b8b27"/>
<circle cx="664.83" cy="179.47" r="0.65" fill="#3b8b27"/>
<circle cx="671.82" cy="180.58" r="0.65" fill="#3b8b27"/>
<circle cx="664.16" cy="180.11" r="0.65" fill="#3b8b27"/>
<circle cx="670.31" cy="179.01" r="0.65" fill="#3b8b27"/>
<circle cx="667.47" cy="178.94" r="0.65" fill="#3b8b27"/>
<circle cx="667.07" cy="180.44" r="0.65" fill="#3b8b27"/>
<circle cx="668.68" cy="179.83" r="0.65" fill="#3b8b27"/>
<circle cx="664.31" cy="179.86" r="0.65" fill="#3b8b27"/>
<circle cx="663.39" cy="180.89" r="0.65" fill="#3b8b27"/>
<circle cx="665.80" cy="179.32" r="0.65" fill="#3b8b27"/>
<circle cx="666.93" cy="180.48" r="0.65" fill="#3b8b27"/>
<circle cx="673.03" cy="180.03" r="0.65" fill="#3b8b27"/>
<circle cx="637.52" cy="192.84" r="0.7" fill="#f08a1e"/>
<circle cx="639.77" cy="192.59" r="0.7" fill="#f08a1e"/>
<circle cx="640.51" cy="193.77" r="0.7" fill="#f08a1e"/>
<circle cx="637.75" cy="192.86" r="0.7" fill="#f08a1e"/>
<circle cx="637.76" cy="193.49" r="0.7" fill="#f08a1e"/>
<circle cx="637.00" cy="193.45" r="0.7" fill="#f08a1e"/>
<circle cx="637.06" cy="193.71" r="0.7" fill="#f08a1e"/>
<circle cx="639.08" cy="193.25" r="0.7" fill="#f08a1e"/>
<circle cx="639.32" cy="193.75" r="0.7" fill="#f08a1e"/>
<circle cx="637.54" cy="192.69" r="0.7" fill="#f08a1e"/>
<circle cx="644.93" cy="192.01" r="0.7" fill="#f08a1e"/>
<circle cx="644.04" cy="191.42" r="0.7" fill="#f08a1e"/>
<circle cx="643.95" cy="191.66" r="0.7" fill="#f08a1e"/>
<circle cx="644.13" cy="191.14" r="0.7" fill="#f08a1e"/>
<circle cx="643.85" cy="190.96" r="0.7" fill="#f08a1e"/>
<circle cx="644.01" cy="191.74" r="0.7" fill="#f08a1e"/>
<circle cx="643.90" cy="190.49" r="0.7" fill="#f08a1e"/>
<circle cx="645.40" cy="191.42" r="0.7" fill="#f08a1e"/>
<circle cx="644.53" cy="191.01" r="0.7" fill="#f08a1e"/>
<circle cx="645.51" cy="192.16" r="0.7" fill="#f08a1e"/>
<circle cx="568.72" cy="264.68" r="0.85" fill="#e4ee16"/>
<circle cx="569.22" cy="262.06" r="0.85" fill="#e4ee16"/>
<circle cx="567.23" cy="260.24" r="0.85" fill="#e4ee16"/>
<circle cx="567.88" cy="261.53" r="0.85" fill="#e4ee16"/>
<circle cx="568.06" cy="262.60" r="0.85" fill="#e4ee16"/>
<circle cx="569.15" cy="265.21" r="0.85" fill="#e4ee16"/>
<circle cx="569.59" cy="261.30" r="0.85" fill="#e4ee16"/>
<circle cx="567.12" cy="262.92" r="0.85" fill="#e4ee16"/>
<circle cx="567.96" cy="258.91" r="0.85" fill="#e4ee16"/>
<circle cx="568.84" cy="255.63" r="0.85" fill="#e4ee16"/>
<circle cx="567.39" cy="266.38" r="0.85" fill="#e4ee16"/>
<circle cx="568.50" cy="263.41" r="0.85" fill="#e4ee16"/>
<circle cx="568.16" cy="259.36" r="0.85" fill="#e4ee16"/>
<circle cx="568.40" cy="264.22" r="0.85" fill="#e4ee16"/>
<circle cx="568.96" cy="257.34" r="0.85" fill="#e4ee16"/>
<circle cx="566.67" cy="269.60" r="0.85" fill="#e4ee16"/>
<circle cx="568.27" cy="255.47" r="0.85" fill="#e4ee16"/>
<circle cx="568.82" cy="258.13" r="0.85" fill="#e4ee16"/>
<circle cx="569.68" cy="254.74" r="0.85" fill="#e4ee16"/>
<circle cx="567.66" cy="269.61" r="0.85" fill="#e4ee16"/>
<circle cx="570.18" cy="256.84" r="0.85" fill="#e4ee16"/>
<circle cx="568.81" cy="263.95" r="0.85" fill="#e4ee16"/>
<circle cx="568.30" cy="260.12" r="0.85" fill="#e4ee16"/>
<circle cx="570.15" cy="257.96" r="0.85" fill="#e4ee16"/>
<circle cx="569.38" cy="256.86" r="0.85" fill="#e4ee16"/>
<circle cx="568.76" cy="260.12" r="0.85" fill="#e4ee16"/>
<circle cx="569.39" cy="261.94" r="0.85" fill="#e4ee16"/>
<circle cx="567.85" cy="266.44" r="0.85" fill="#e4ee16"/>
<circle cx="568.31" cy="257.74" r="0.85" fill="#e4ee16"/>
<circle cx="565.65" cy="265.76" r="0.85" fill="#e4ee16"/>
<circle cx="564.85" cy="268.07" r="0.85" fill="#e4ee16"/>
<circle cx="567.62" cy="267.73" r="0.85" fill="#e4ee16"/>
<circle cx="568.70" cy="266.11" r="0.85" fill="#e4ee16"/>
<circle cx="568.10" cy="260.00" r="0.85" fill="#e4ee16"/>
<circle cx="567.91" cy="260.20" r="0.85" fill="#e4ee16"/>
<circle cx="567.67" cy="254.46" r="0.85" fill="#e4ee16"/>
<circle cx="568.67" cy="256.99" r="0.85" fill="#e4ee16"/>
<circle cx="567.08" cy="262.74" r="0.85" fill="#e4ee16"/>
<circle cx="570.97" cy="255.98" r="0.85" fill="#e4ee16"/>
<circle cx="567.02" cy="265.48" r="0.85" fill="#e4ee16"/>
<circle cx="566.94" cy="265.46" r="0.85" fill="#e4ee16"/>
<circle cx="566.87" cy="263.79" r="0.85" fill="#e4ee16"/>
<circle cx="568.40" cy="268.48" r="0.85" fill="#e4ee16"/>
<circle cx="568.30" cy="255.97" r="0.85" fill="#e4ee16"/>
<circle cx="569.84" cy="254.83" r="0.85" fill="#e4ee16"/>
<circle cx="568.76" cy="258.41" r="0.85" fill="#e4ee16"/>
<circle cx="566.59" cy="263.81" r="0.85" fill="#e4ee16"/>
<circle cx="569.23" cy="256.93" r="0.85" fill="#e4ee16"/>
<circle cx="570.33" cy="257.08" r="0.85" fill="#e4ee16"/>
<circle cx="568.25" cy="259.40" r="0.85" fill="#e4ee16"/>
<circle cx="568.83" cy="254.88" r="0.85" fill="#e4ee16"/>
<circle cx="569.38" cy="257.64" r="0.85" fill="#e4ee16"/>
<circle cx="567.72" cy="265.72" r="0.85" fill="#e4ee16"/>
<circle cx="567.29" cy="259.04" r="0.85" fill="#e4ee16"/>
<circle cx="567.12" cy="258.96" r="0.85" fill="#e4ee16"/>
<circle cx="569.57" cy="261.44" r="0.85" fill="#e4ee16"/>
<circle cx="569.17" cy="256.31" r="0.85" fill="#e4ee16"/>
<circle cx="567.24" cy="256.82" r="0.85" fill="#e4ee16"/>
<circle cx="569.49" cy="263.24" r="0.85" fill="#e4ee16"/>
<circle cx="568.19" cy="267.93" r="0.85" fill="#e4ee16"/>
<circle cx="568.86" cy="254.22" r="0.85" fill="#e4ee16"/>
<circle cx="568.07" cy="255.91" r="0.85" fill="#e4ee16"/>
<circle cx="568.58" cy="267.40" r="0.85" fill="#e4ee16"/>
<circle cx="569.07" cy="265.82" r="0.85" fill="#e4ee16"/>
<circle cx="568.43" cy="268.04" r="0.85" fill="#e4ee16"/>
<circle cx="566.34" cy="266.58" r="0.85" fill="#e4ee16"/>
<circle cx="568.79" cy="261.53" r="0.85" fill="#e4ee16"/>
<circle cx="567.92" cy="262.22" r="0.85" fill="#e4ee16"/>
<circle cx="568.61" cy="265.05" r="0.85" fill="#e4ee16"/>
<circle cx="567.89" cy="267.07" r="0.85" fill="#e4ee16"/>
<circle cx="567.10" cy="268.99" r="0.85" fill="#e4ee16"/>
<circle cx="567.74" cy="260.37" r="0.85" fill="#e4ee16"/>
<circle cx="567.71" cy="259.70" r="0.85" fill="#e4ee16"/>
<circle cx="567.14" cy="255.11" r="0.85" fill="#e4ee16"/>
<circle cx="569.11" cy="256.29" r="0.85" fill="#e4ee16"/>
<circle cx="568.57" cy="266.40" r="0.85" fill="#e4ee16"/>
<circle cx="567.46" cy="258.67" r="0.85" fill="#e4ee16"/>
<circle cx="566.91" cy="268.46" r="0.85" fill="#e4ee16"/>
<circle cx="568.60" cy="254.64" r="0.85" fill="#e4ee16"/>
<circle cx="565.32" cy="266.67" r="0.85" fill="#e4ee16"/>
<circle cx="568.93" cy="261.56" r="0.85" fill="#e4ee16"/>
<circle cx="568.58" cy="261.56" r="0.85" fill="#e4ee16"/>
<circle cx="566.44" cy="268.93" r="0.85" fill="#e4ee16"/>
<circle cx="564.82" cy="269.04" r="0.85" fill="#e4ee16"/>
<circle cx="566.57" cy="265.75" r="0.85" fill="#e4ee16"/>
<circle cx="569.24" cy="265.81" r="0.85" fill="#e4ee16"/>
<circle cx="567.59" cy="255.75" r="0.85" fill="#e4ee16"/>
<circle cx="568.88" cy="259.82" r="0.85" fill="#e4ee16"/>
<circle cx="568.55" cy="263.92" r="0.85" fill="#e4ee16"/>
<circle cx="569.77" cy="263.84" r="0.85" fill="#e4ee16"/>
<rect x="639.1" y="230.60" width="3.2" height="3.2" fill="#e4ec3c"/>
<text x="646.4" y="233.80" font-size="4.8" fill="#222">African</text>
<rect x="639.1" y="235.85" width="3.2" height="3.2" fill="#3a8a28"/>
<text x="646.4" y="239.05" font-size="4.8" fill="#222">Native American</text>
<rect x="639.1" y="241.10" width="3.2" height="3.2" fill="#f01010"/>
<text x="646.4" y="244.30" font-size="4.8" fill="#222">UPR-cohort</text>
<rect x="639.1" y="246.35" width="3.2" height="3.2" fill="#f2aac4"/>
<text x="646.4" y="249.55" font-size="4.8" fill="#222">Arab-cohort</text>
<rect x="639.1" y="251.60" width="3.2" height="3.2" fill="#b4b4b4"/>
<text x="646.4" y="254.80" font-size="4.8" fill="#222">East-Asian</text>
<rect x="639.1" y="256.85" width="3.2" height="3.2" fill="#2e4ef0"/>
<text x="646.4" y="260.05" font-size="4.8" fill="#222">European</text>
<rect x="639.1" y="262.10" width="3.2" height="3.2" fill="#111111"/>
<text x="646.4" y="265.30" font-size="4.8" fill="#222">South Asian</text>
<rect x="639.1" y="267.35" width="3.2" height="3.2" fill="#ef8a22"/>
<text x="646.4" y="270.55" font-size="4.8" fill="#222">Oceanian</text>
</svg>
</body></html>
